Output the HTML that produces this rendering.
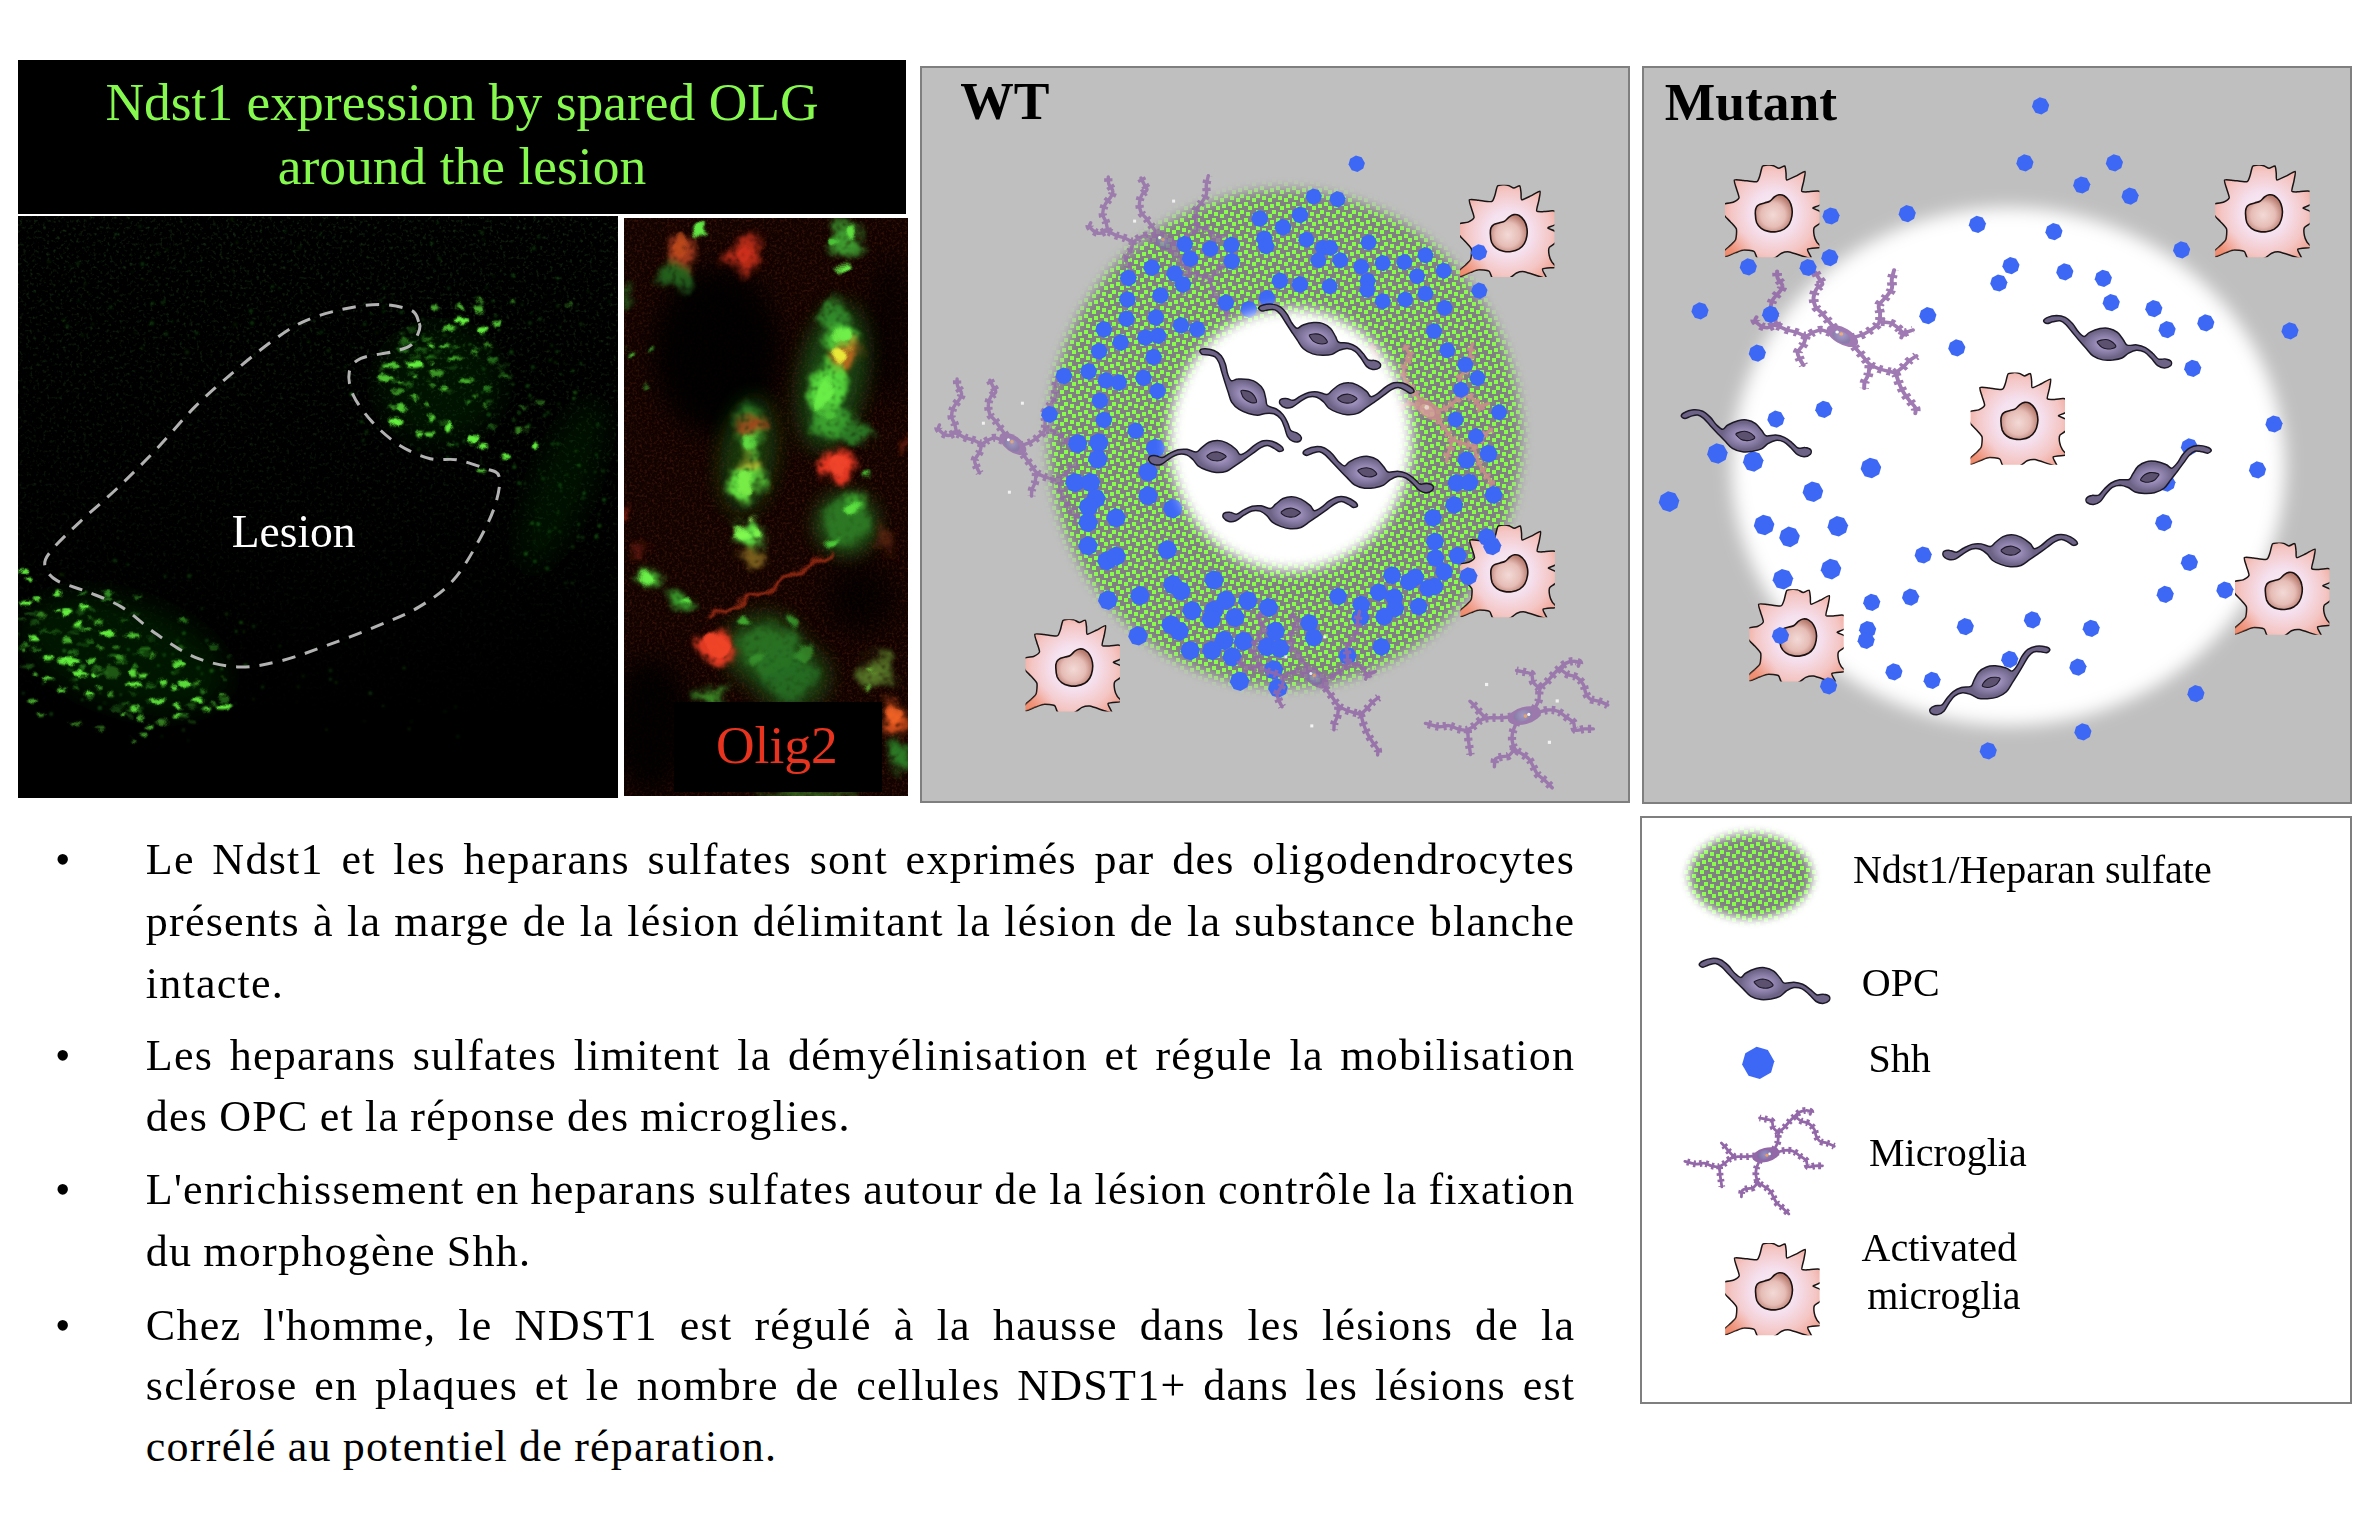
<!DOCTYPE html><html lang="fr"><head><meta charset="utf-8"><title>Ndst1</title><style>
html,body{margin:0;padding:0;background:#fff}
body{width:2376px;height:1530px;position:relative;overflow:hidden;font-family:"Liberation Serif", serif}
.t{position:absolute;white-space:nowrap;line-height:1;margin:0}
.hd{color:#86f94e;font-size:53.5px;text-align:center;left:18px;width:888px}
.bl{font-size:44px;left:145.8px;width:1427.5px;color:#000;letter-spacing:1.25px}
.j{text-align:justify;text-align-last:justify;white-space:normal}
.bu{font-size:44px;left:55px}
.lg{font-size:40px;color:#000}
.pn{font-size:53.5px;font-weight:bold;color:#000}
</style></head><body><svg width="2376" height="1530" viewBox="0 0 2376 1530" style="position:absolute;left:0;top:0"><defs><pattern id="pat" width="16" height="16" patternUnits="userSpaceOnUse" patternTransform="translate(-2 -4)"><rect width="16" height="16" fill="#808080"/><path fill="#88fc4e" d="M14 14h2v2h-2zM-2 -2h4v4h-4zM14 0h2v2h-2zM0 14h2v2h-2zM8 0h4v4h-4zM2 2h4v4h-4zM10 6h4v4h-4zM0 8h4v4h-4zM6 10h4v4h-4z"/></pattern><filter id="b2" x="-20%" y="-20%" width="140%" height="140%"><feGaussianBlur stdDeviation="2"/></filter><filter id="b5" x="-20%" y="-20%" width="140%" height="140%"><feGaussianBlur stdDeviation="5"/></filter><filter id="b65" x="-10%" y="-10%" width="120%" height="120%"><feGaussianBlur stdDeviation="6.5"/></filter><filter id="b85" x="-10%" y="-10%" width="120%" height="120%"><feGaussianBlur stdDeviation="8.5"/></filter><filter id="b7" x="-20%" y="-20%" width="140%" height="140%"><feGaussianBlur stdDeviation="7"/></filter><filter id="b10" x="-20%" y="-20%" width="140%" height="140%"><feGaussianBlur stdDeviation="10"/></filter><filter id="b1" x="-30%" y="-30%" width="160%" height="160%"><feGaussianBlur stdDeviation="1.1"/></filter><filter id="b3" x="-30%" y="-30%" width="160%" height="160%"><feGaussianBlur stdDeviation="3"/></filter><filter id="b6" x="-30%" y="-30%" width="160%" height="160%"><feGaussianBlur stdDeviation="6"/></filter><filter id="b12" x="-40%" y="-40%" width="180%" height="180%"><feGaussianBlur stdDeviation="12"/></filter><filter id="org" x="-10%" y="-10%" width="120%" height="120%"><feGaussianBlur stdDeviation="3.5" result="b"/><feTurbulence type="fractalNoise" baseFrequency="0.04" numOctaves="3" seed="3" result="n"/><feDisplacementMap in="b" in2="n" scale="26" xChannelSelector="R" yChannelSelector="G" result="d"/><feTurbulence type="fractalNoise" baseFrequency="0.22" numOctaves="2" seed="8" result="n2"/><feColorMatrix in="n2" type="matrix" values="0 0 0 0 0 0 0 0 0 0 0 0 0 0 0 2.6 0 0 0 -0.2" result="a2"/><feComposite in="d" in2="a2" operator="in" result="c"/><feGaussianBlur in="c" stdDeviation="0.8"/></filter><filter id="org2" x="-10%" y="-10%" width="120%" height="120%"><feGaussianBlur stdDeviation="1.6" result="b"/><feTurbulence type="fractalNoise" baseFrequency="0.05" numOctaves="2" seed="5" result="n"/><feDisplacementMap in="b" in2="n" scale="18" xChannelSelector="R" yChannelSelector="G"/></filter><filter id="org3" x="-5%" y="-5%" width="110%" height="110%"><feGaussianBlur stdDeviation="0.9" result="b"/><feTurbulence type="fractalNoise" baseFrequency="0.13" numOctaves="2" seed="11" result="n"/><feDisplacementMap in="b" in2="n" scale="7" xChannelSelector="R" yChannelSelector="G"/></filter><filter id="nzg" x="0" y="0" width="100%" height="100%"><feTurbulence type="fractalNoise" baseFrequency="0.3" numOctaves="2" seed="2"/><feColorMatrix type="matrix" values="0 0 0 0 0.1 0 0 0 0 0.55 0 0 0 0 0.08 0 2.4 0 0 -1.32"/></filter><filter id="nzr" x="0" y="0" width="100%" height="100%"><feTurbulence type="fractalNoise" baseFrequency="0.4" numOctaves="2" seed="4"/><feColorMatrix type="matrix" values="0 0 0 0 0.55 0 0 0 0 0.08 0 0 0 0 0.03 2.4 0 0 0 -1.1"/></filter><linearGradient id="lgm" x1="0" y1="216" x2="0" y2="720" gradientUnits="userSpaceOnUse"><stop offset="0" stop-color="#fff"/><stop offset=".55" stop-color="#999"/><stop offset="1" stop-color="#000"/></linearGradient><mask id="mnz"><rect x="18" y="216" width="600" height="582" fill="url(#lgm)"/></mask><radialGradient id="gopc" cx="0" cy="0" r="22" gradientUnits="userSpaceOnUse" gradientTransform="scale(1 .62)"><stop offset="0" stop-color="#b9abd9"/><stop offset=".55" stop-color="#8f83ad"/><stop offset="1" stop-color="#6d6386"/></radialGradient><g id="opc"><path d="M-63.1 -18.9C-63.1 -20 -61.4 -21.7 -59.3 -22.7C-57.2 -23.8 -53.5 -25 -50.5 -25.3C-47.6 -25.5 -44.4 -25.1 -41.7 -24C-38.9 -22.8 -36.4 -20.5 -34.1 -18.3C-31.8 -16.1 -29.9 -12.7 -27.8 -10.7C-25.7 -8.7 -23.4 -6.3 -21.5 -6.3C-19.6 -6.3 -18.9 -9.3 -16.4 -10.7C-13.9 -12.2 -9.5 -14.3 -6.3 -15.2C-3.2 -16 -0.4 -16.5 2.5 -16C5.5 -15.6 8.8 -14.4 11.4 -12.6C13.9 -10.9 15.9 -7.7 17.7 -5.7C19.5 -3.7 19.8 -1.3 22.1 -0.6C24.4 0.1 28.5 -1.7 31.6 -1.5C34.6 -1.3 37.7 -0.6 40.4 0.6C43.1 1.8 45.7 3.9 48 5.7C50.3 7.4 52.1 10.3 54.3 11.1C56.5 11.9 59.1 10.2 61.2 10.5C63.3 10.7 66 11.5 66.9 12.6C67.8 13.7 67.7 15.9 66.7 17C65.6 18.2 62.7 19.6 60.6 19.7C58.5 19.8 56.2 19.3 53.9 17.8C51.6 16.3 49.3 13 47 10.9C44.6 8.8 42.3 6.3 39.8 5.2C37.2 4 34.2 3.6 31.6 3.9C28.9 4.3 26.3 5.9 24 7.3C21.7 8.8 20.2 11.3 17.7 12.6C15.2 13.9 12 14.6 8.8 15.2C5.7 15.7 2.1 16.2 -1.3 15.8C-4.6 15.4 -8.4 14.4 -11.4 12.6C-14.3 10.9 -16.4 7.9 -18.9 5.4C-21.5 3 -24 0.4 -26.5 -2.1C-29 -4.7 -31.7 -7.5 -34.1 -10C-36.4 -12.4 -38.6 -15.2 -40.7 -16.9C-42.8 -18.6 -44.5 -19.9 -46.7 -20.2C-48.9 -20.5 -51.6 -19.3 -53.7 -18.7C-55.8 -18.1 -57.8 -16.5 -59.3 -16.5C-60.9 -16.6 -63.1 -17.9 -63.1 -18.9Z" fill="url(#gopc)" stroke="#1d1826" stroke-width="1.5" stroke-linejoin="round"/><path d="M-8.2 -1.9C-7.9 -2.6 -5.9 -3.3 -4.4 -3.8C-2.9 -4.3 -1.1 -4.7 0.6 -4.7C2.3 -4.6 4.2 -4.1 5.7 -3.4C7.2 -2.7 8.6 -1.5 9.5 -0.6C10.3 0.3 11.3 1.1 10.7 1.9C10.2 2.7 7.9 3.7 6.3 4.2C4.7 4.6 2.8 4.6 1.3 4.4C-0.3 4.3 -1.9 3.8 -3.2 3.2C-4.4 2.5 -5.5 1.5 -6.3 0.6C-7.2 -0.2 -8.5 -1.2 -8.2 -1.9Z" fill="#5c5270" stroke="#1d1826" stroke-width="1.1"/></g><radialGradient id="gam" cx="48.6" cy="48.4" r="56" gradientUnits="userSpaceOnUse"><stop offset="0" stop-color="#faf0fa"/><stop offset=".4" stop-color="#f5e0ee"/><stop offset=".75" stop-color="#f4c6c4"/><stop offset="1" stop-color="#f0a494"/></radialGradient><radialGradient id="gam2" cx="0" cy="92" r="30" gradientUnits="userSpaceOnUse"><stop offset="0" stop-color="#ee7a52" stop-opacity=".65"/><stop offset="1" stop-color="#ee7a52" stop-opacity="0"/></radialGradient><radialGradient id="gnu" cx="48" cy="50" r="20" gradientUnits="userSpaceOnUse"><stop offset="0" stop-color="#f3d9d6"/><stop offset=".6" stop-color="#e6bdb6"/><stop offset="1" stop-color="#b87c70"/></radialGradient><clipPath id="cam"><rect x="0" y="0" width="94.4" height="92.2"/></clipPath><g id="am" clip-path="url(#cam)"><path d="M9.4 15C10.2 14.2 16.2 15.2 18.6 15.4C20.9 15.6 29.9 17.3 31.6 16.7C33.4 16.2 34.3 12.1 34.9 10.5C35.5 8.8 36.6 2.4 37.5 1.3C38.4 0.2 42.2 0.1 43.4 0C44.6 -0.1 47.5 0.3 48.6 0.7C49.7 1 52.7 3.2 53.9 3.3C55 3.3 59 0.6 59.7 1C60.5 1.5 60.8 6.4 61 7.8C61.3 9.3 60.7 14.7 61.7 15C62.7 15.4 68.9 12 70.8 11.1C72.8 10.2 79.2 6 80 6.5C80.8 7.1 79 14.2 78.7 16.3C78.3 18.4 76.2 25 76.7 26.1C77.3 27.3 82.2 26.8 83.9 26.8C85.6 26.8 91.2 25.8 92.4 25.9C93.7 26 95.3 26 95.7 27.5C96 28.9 96.5 37.5 95.7 39.2C94.8 40.9 87.8 42.3 87.8 43.1C87.8 44 94.8 45.5 95.7 47.1C96.5 48.6 96.4 55.8 95.7 57.5C95 59.2 89.8 61.4 89.2 62.7C88.5 64.1 88.9 69.1 89.2 70.6C89.4 72.1 91.1 75.9 91.8 77.1C92.5 78.4 96.7 81.6 95.7 82.4C94.7 83.1 83.6 83.1 82.6 84.3C81.6 85.5 87 92.7 86.5 93.5C86.1 94.2 81.1 92.2 78.7 91.5C76.3 90.8 66.7 87.3 64.3 86.9C61.9 86.6 58.1 87.5 56.5 88.2C54.8 88.9 51.1 92.9 48.6 93.5C46.1 94 35 94.2 32.9 93.5C30.8 92.7 30.6 87.2 29 86.3C27.5 85.4 20.5 84.8 18.6 85C16.6 85.1 12.4 87 10.7 87.6C9 88.2 4.1 90.4 2.9 90.8C1.6 91.3 -0.6 92 -1 91.5C-1.5 91 -1.7 87.5 -1 86.3C-0.3 85.1 4.2 81.6 5.5 80.4C6.7 79.1 10.1 76.3 10.7 74.5C11.3 72.8 11.9 65.9 11.4 64.1C10.8 62.2 6.8 58.4 5.5 56.9C4.2 55.3 -0.3 51.6 -1 49.7C-1.7 47.8 -2 40.5 -1 39.2C-0.1 37.9 6.5 38 8.1 37.3C9.7 36.6 13.6 34.1 14 32.7C14.3 31.2 11.9 25.4 11.4 23.5C10.9 21.6 8.6 15.9 9.4 15Z" fill="url(#gam)" stroke="#1a1414" stroke-width="1.5" stroke-linejoin="round"/><path d="M9.4 15C10.2 14.2 16.2 15.2 18.6 15.4C20.9 15.6 29.9 17.3 31.6 16.7C33.4 16.2 34.3 12.1 34.9 10.5C35.5 8.8 36.6 2.4 37.5 1.3C38.4 0.2 42.2 0.1 43.4 0C44.6 -0.1 47.5 0.3 48.6 0.7C49.7 1 52.7 3.2 53.9 3.3C55 3.3 59 0.6 59.7 1C60.5 1.5 60.8 6.4 61 7.8C61.3 9.3 60.7 14.7 61.7 15C62.7 15.4 68.9 12 70.8 11.1C72.8 10.2 79.2 6 80 6.5C80.8 7.1 79 14.2 78.7 16.3C78.3 18.4 76.2 25 76.7 26.1C77.3 27.3 82.2 26.8 83.9 26.8C85.6 26.8 91.2 25.8 92.4 25.9C93.7 26 95.3 26 95.7 27.5C96 28.9 96.5 37.5 95.7 39.2C94.8 40.9 87.8 42.3 87.8 43.1C87.8 44 94.8 45.5 95.7 47.1C96.5 48.6 96.4 55.8 95.7 57.5C95 59.2 89.8 61.4 89.2 62.7C88.5 64.1 88.9 69.1 89.2 70.6C89.4 72.1 91.1 75.9 91.8 77.1C92.5 78.4 96.7 81.6 95.7 82.4C94.7 83.1 83.6 83.1 82.6 84.3C81.6 85.5 87 92.7 86.5 93.5C86.1 94.2 81.1 92.2 78.7 91.5C76.3 90.8 66.7 87.3 64.3 86.9C61.9 86.6 58.1 87.5 56.5 88.2C54.8 88.9 51.1 92.9 48.6 93.5C46.1 94 35 94.2 32.9 93.5C30.8 92.7 30.6 87.2 29 86.3C27.5 85.4 20.5 84.8 18.6 85C16.6 85.1 12.4 87 10.7 87.6C9 88.2 4.1 90.4 2.9 90.8C1.6 91.3 -0.6 92 -1 91.5C-1.5 91 -1.7 87.5 -1 86.3C-0.3 85.1 4.2 81.6 5.5 80.4C6.7 79.1 10.1 76.3 10.7 74.5C11.3 72.8 11.9 65.9 11.4 64.1C10.8 62.2 6.8 58.4 5.5 56.9C4.2 55.3 -0.3 51.6 -1 49.7C-1.7 47.8 -2 40.5 -1 39.2C-0.1 37.9 6.5 38 8.1 37.3C9.7 36.6 13.6 34.1 14 32.7C14.3 31.2 11.9 25.4 11.4 23.5C10.9 21.6 8.6 15.9 9.4 15Z" fill="url(#gam2)"/><path d="M30.3 48.4C30.2 46 30.4 44.6 31 43.1C31.5 41.7 32.2 40.7 33.6 39.9C35 39 37.6 38.5 39.5 37.9C41.3 37.3 43.1 37.3 44.7 36.3C46.3 35.4 47.8 33.1 49.3 32C50.8 30.9 52.2 30 53.9 29.8C55.5 29.6 57.3 29.7 59.1 30.7C60.8 31.7 63 33.9 64.3 35.9C65.6 38 66.5 40.6 66.9 43.1C67.4 45.6 67.4 48.4 66.9 51C66.5 53.6 65.6 56.6 64.3 58.8C63 61 61.3 62.7 59.1 64.1C56.9 65.4 53.9 66.3 51.2 66.7C48.6 67.1 45.9 66.9 43.4 66.4C40.9 65.9 38.2 64.9 36.2 63.4C34.2 61.9 32.6 60 31.6 57.5C30.7 55 30.4 50.8 30.3 48.4Z" fill="url(#gnu)" stroke="#1a1010" stroke-width="1.6"/></g><radialGradient id="gmn" cx="-1" cy="-.5" r="8" gradientUnits="userSpaceOnUse"><stop offset="0" stop-color="#9a90c4"/><stop offset="1" stop-color="#7a6aa0"/></radialGradient><g id="mgb"><path d="M8.2 -5.5C8.8 -6.7 11.1 -10 11.8 -12.8C12.6 -15.5 11.7 -19.4 12.8 -21.9C13.8 -24.3 16.4 -25.3 18.2 -27.3C20 -29.3 21.9 -31.8 23.7 -33.7C25.4 -35.6 27 -37.2 28.7 -38.7C30.4 -40.2 31.8 -41.8 33.7 -42.8C35.6 -43.8 38.3 -44.6 40.1 -44.6C41.9 -44.7 43.9 -43.9 44.6 -43.3C45.3 -42.6 44.2 -41 44.2 -40.5M12.3 -22.3C11.5 -23.1 8.3 -25.4 7.3 -27.3C6.2 -29.2 7 -32.3 5.9 -33.7C4.9 -35.1 3 -35 0.9 -35.5C-1.1 -36.1 -5.2 -36.7 -6.4 -36.9M29.1 -38.3C30.2 -37.5 33.2 -34.8 35.5 -33.7C37.8 -32.6 40.7 -32.8 42.8 -31.4C44.9 -30.1 47.1 -27.6 48.3 -25.5C49.5 -23.5 49.2 -21.1 50.1 -19.1C51 -17.2 51.9 -14.9 53.7 -13.7C55.6 -12.4 58.6 -12.7 61 -11.8C63.4 -11 67.1 -9.2 68.3 -8.7M10 -2.3C11.5 -2.7 16.2 -4.3 19.1 -4.6C22 -4.8 24.9 -4.6 27.3 -3.6C29.8 -2.7 31.6 -0.6 33.7 0.9C35.8 2.4 38.7 3.6 40.1 5.5C41.4 7.3 40.4 10.9 41.9 11.8C43.4 12.8 46.8 11.1 49.2 10.9C51.6 10.8 55.3 10.9 56.5 10.9M-6.4 5.5C-6.9 6.8 -9 11.1 -9.6 13.7C-10.2 16.2 -10.3 18.7 -10 20.9C-9.7 23.2 -9 25.7 -7.7 27.3C-6.5 29 -4.6 29.6 -2.7 31C-0.8 32.3 2 33.7 3.6 35.5C5.3 37.3 6.1 39.8 7.3 41.9C8.5 44 9.4 46.4 10.9 48.3C12.4 50.1 14.4 51 16.4 52.8C18.4 54.6 21.7 58.1 22.8 59.2M-8.2 27.8C-9 28.6 -11.1 31.8 -12.8 32.8C-14.4 33.8 -16.4 33.2 -18.2 33.7C-20 34.2 -22.6 34.2 -23.7 35.5C-24.7 36.9 -24.4 40.8 -24.6 41.9M-10.9 0.9C-12.4 1.1 -17.2 1.7 -20 1.8C-22.9 2 -25.7 1.5 -28.2 1.8C-30.8 2.1 -33.4 2.6 -35.5 3.6C-37.6 4.7 -39 6.8 -41 8.2C-43 9.6 -45.1 11.4 -47.4 11.8C-49.6 12.3 -52.2 11.5 -54.6 10.9C-57.1 10.3 -59.4 8.5 -61.9 8.2C-64.5 7.9 -66.9 9.4 -70.1 9.1C-73.3 8.8 -79.2 6.8 -81.1 6.4M-31.9 1.8C-32.8 0.9 -35.8 -2 -37.3 -3.6C-38.9 -5.3 -39.8 -6.8 -41 -8.2C-42.2 -9.6 -44 -11.2 -44.6 -11.8M-46.4 11.8C-46.4 13.1 -46.2 16.8 -46 19.1C-45.8 21.4 -45.4 23.4 -45.1 25.5C-44.8 27.6 -44.3 30.8 -44.2 31.9" fill="none" stroke-width="2.8" stroke-linecap="round" stroke-linejoin="round"/><path d="M8.2 -5.5C8.8 -6.7 11.1 -10 11.8 -12.8C12.6 -15.5 11.7 -19.4 12.8 -21.9C13.8 -24.3 16.4 -25.3 18.2 -27.3C20 -29.3 21.9 -31.8 23.7 -33.7C25.4 -35.6 27 -37.2 28.7 -38.7C30.4 -40.2 31.8 -41.8 33.7 -42.8C35.6 -43.8 38.3 -44.6 40.1 -44.6C41.9 -44.7 43.9 -43.9 44.6 -43.3C45.3 -42.6 44.2 -41 44.2 -40.5M12.3 -22.3C11.5 -23.1 8.3 -25.4 7.3 -27.3C6.2 -29.2 7 -32.3 5.9 -33.7C4.9 -35.1 3 -35 0.9 -35.5C-1.1 -36.1 -5.2 -36.7 -6.4 -36.9M29.1 -38.3C30.2 -37.5 33.2 -34.8 35.5 -33.7C37.8 -32.6 40.7 -32.8 42.8 -31.4C44.9 -30.1 47.1 -27.6 48.3 -25.5C49.5 -23.5 49.2 -21.1 50.1 -19.1C51 -17.2 51.9 -14.9 53.7 -13.7C55.6 -12.4 58.6 -12.7 61 -11.8C63.4 -11 67.1 -9.2 68.3 -8.7M10 -2.3C11.5 -2.7 16.2 -4.3 19.1 -4.6C22 -4.8 24.9 -4.6 27.3 -3.6C29.8 -2.7 31.6 -0.6 33.7 0.9C35.8 2.4 38.7 3.6 40.1 5.5C41.4 7.3 40.4 10.9 41.9 11.8C43.4 12.8 46.8 11.1 49.2 10.9C51.6 10.8 55.3 10.9 56.5 10.9M-6.4 5.5C-6.9 6.8 -9 11.1 -9.6 13.7C-10.2 16.2 -10.3 18.7 -10 20.9C-9.7 23.2 -9 25.7 -7.7 27.3C-6.5 29 -4.6 29.6 -2.7 31C-0.8 32.3 2 33.7 3.6 35.5C5.3 37.3 6.1 39.8 7.3 41.9C8.5 44 9.4 46.4 10.9 48.3C12.4 50.1 14.4 51 16.4 52.8C18.4 54.6 21.7 58.1 22.8 59.2M-8.2 27.8C-9 28.6 -11.1 31.8 -12.8 32.8C-14.4 33.8 -16.4 33.2 -18.2 33.7C-20 34.2 -22.6 34.2 -23.7 35.5C-24.7 36.9 -24.4 40.8 -24.6 41.9M-10.9 0.9C-12.4 1.1 -17.2 1.7 -20 1.8C-22.9 2 -25.7 1.5 -28.2 1.8C-30.8 2.1 -33.4 2.6 -35.5 3.6C-37.6 4.7 -39 6.8 -41 8.2C-43 9.6 -45.1 11.4 -47.4 11.8C-49.6 12.3 -52.2 11.5 -54.6 10.9C-57.1 10.3 -59.4 8.5 -61.9 8.2C-64.5 7.9 -66.9 9.4 -70.1 9.1C-73.3 8.8 -79.2 6.8 -81.1 6.4M-31.9 1.8C-32.8 0.9 -35.8 -2 -37.3 -3.6C-38.9 -5.3 -39.8 -6.8 -41 -8.2C-42.2 -9.6 -44 -11.2 -44.6 -11.8M-46.4 11.8C-46.4 13.1 -46.2 16.8 -46 19.1C-45.8 21.4 -45.4 23.4 -45.1 25.5C-44.8 27.6 -44.3 30.8 -44.2 31.9" fill="none" stroke-width="6.8" stroke-dasharray="2.6 3.7" stroke-linecap="butt"/><ellipse cx="0" cy="0" rx="14" ry="7" transform="rotate(-14)" stroke="none"/></g><g id="mg"><use href="#mgb" stroke="#9368a8" fill="#9368a8"/><ellipse cx="-1.2" cy="-.4" rx="7.6" ry="4.6" transform="rotate(-14)" fill="url(#gmn)"/><circle cx=".9" cy=".4" r="1.5" fill="#f0a060"/><circle cx="3.6" cy="-1" r="1.3" fill="#fff"/><rect x="-32.3" y="-26.8" width="2.6" height="2.6" fill="#fff"/><rect x="25.6" y="-13.3" width="2.6" height="2.6" fill="#fff"/><rect x="19.2" y="20.6" width="2.6" height="2.6" fill="#fff"/></g><g id="mgp"><use href="#mgb" stroke="#c68c8c" fill="#c68c8c"/><ellipse cx="-1.2" cy="-.4" rx="7.6" ry="4.6" transform="rotate(-14)" fill="#d49c98"/><circle cx="1" cy="0" r="2" fill="#f0d0cc"/></g><g id="m1b"><path d="M-7 -8.2C-8 -9.6 -11.2 -13.9 -13.1 -16.5C-14.9 -19 -16.4 -21.4 -18.1 -23.5C-19.8 -25.7 -22 -26.9 -23.1 -29.4C-24.2 -32 -24.8 -35.9 -24.6 -38.8C-24.5 -41.8 -23.4 -44.9 -22.1 -47.1C-20.9 -49.2 -17.4 -50 -17.1 -51.8C-16.8 -53.5 -19.1 -55.7 -20.1 -57.6C-21.1 -59.6 -22.6 -62.5 -23.1 -63.5M-10.1 -2.9C-11.4 -3.4 -15.6 -5.8 -18.1 -5.9C-20.6 -6 -23 -4.5 -25.1 -3.5C-27.3 -2.5 -28.8 0 -31.2 0C-33.5 0 -36.5 -2.5 -39.2 -3.5C-41.9 -4.5 -44.7 -4.9 -47.3 -5.9C-49.8 -6.9 -52.5 -8.6 -54.3 -9.4C-56.1 -10.2 -56.6 -10.8 -58.3 -10.6C-60 -10.4 -62.3 -8.2 -64.4 -8.2C-66.4 -8.2 -68.7 -9.4 -70.4 -10.6C-72.1 -11.8 -73.9 -13.9 -74.4 -15.3C-74.9 -16.7 -73.6 -18.2 -73.4 -18.8M-56.3 -10.6C-56.6 -12.2 -57.5 -17.3 -58.3 -20C-59.2 -22.7 -61.2 -24.3 -61.3 -27.1C-61.5 -29.8 -60.7 -33.5 -59.3 -36.5C-58 -39.4 -54.6 -42.4 -53.3 -44.7C-52 -47.1 -50.9 -48.4 -51.3 -50.6C-51.6 -52.7 -54.6 -55.3 -55.3 -57.6C-56.1 -60 -55.7 -63.5 -55.8 -64.7M-31.2 0C-31.5 1.4 -32 5.5 -33.2 8.2C-34.4 11 -37.7 13.9 -38.2 16.5C-38.7 19 -37 21.4 -36.2 23.5C-35.4 25.7 -33.7 28.4 -33.2 29.4M8 1.8C9.6 1.3 14.4 0.1 17.1 -1.2C19.8 -2.5 21.8 -3.9 24.1 -5.9C26.5 -7.8 29.8 -10.2 31.2 -12.9C32.5 -15.7 32.2 -19.4 32.2 -22.4C32.2 -25.3 30.3 -27.8 31.2 -30.6C32 -33.3 35.4 -36.1 37.2 -38.8C39 -41.6 41.4 -44.1 42.2 -47.1C43.1 -50 41.9 -53.3 42.2 -56.5C42.6 -59.6 43.9 -64.3 44.2 -65.9M33.2 -14.1C34.5 -13.9 38.9 -13.9 41.2 -12.9C43.6 -12 45.4 -9.8 47.3 -8.2C49.1 -6.7 50.1 -3.9 52.3 -3.5C54.5 -3.1 59 -5.5 60.3 -5.9M52.3 -3.5C52 -2.6 50.6 0.9 50.3 1.8M10.1 10.6C11.2 12.2 14.9 17.1 17.1 20C19.3 22.9 20.8 26.1 23.1 28.2C25.5 30.4 28.5 31.8 31.2 32.9C33.9 34.1 36.9 34.5 39.2 35.3C41.6 36.1 43.7 35.7 45.2 37.6C46.8 39.6 47.1 43.9 48.3 47.1C49.4 50.2 50.8 53.5 52.3 56.5C53.8 59.4 55.6 62.2 57.3 64.7C59 67.3 61.5 69.6 62.3 71.8C63.2 73.9 62.3 76.7 62.3 77.6M45.2 37.1C46.4 36 50.3 32.6 52.3 30.6C54.3 28.5 55.5 26.5 57.3 24.7C59.2 22.9 62.3 20.8 63.3 20M23.1 29.4C23 31 22.8 36.1 22.1 38.8C21.5 41.6 19.7 43.6 19.1 45.9C18.5 48.1 18.7 51.3 18.6 52.4" fill="none" stroke-width="3.4" stroke-linecap="round" stroke-linejoin="round"/><path d="M-7 -8.2C-8 -9.6 -11.2 -13.9 -13.1 -16.5C-14.9 -19 -16.4 -21.4 -18.1 -23.5C-19.8 -25.7 -22 -26.9 -23.1 -29.4C-24.2 -32 -24.8 -35.9 -24.6 -38.8C-24.5 -41.8 -23.4 -44.9 -22.1 -47.1C-20.9 -49.2 -17.4 -50 -17.1 -51.8C-16.8 -53.5 -19.1 -55.7 -20.1 -57.6C-21.1 -59.6 -22.6 -62.5 -23.1 -63.5M-10.1 -2.9C-11.4 -3.4 -15.6 -5.8 -18.1 -5.9C-20.6 -6 -23 -4.5 -25.1 -3.5C-27.3 -2.5 -28.8 0 -31.2 0C-33.5 0 -36.5 -2.5 -39.2 -3.5C-41.9 -4.5 -44.7 -4.9 -47.3 -5.9C-49.8 -6.9 -52.5 -8.6 -54.3 -9.4C-56.1 -10.2 -56.6 -10.8 -58.3 -10.6C-60 -10.4 -62.3 -8.2 -64.4 -8.2C-66.4 -8.2 -68.7 -9.4 -70.4 -10.6C-72.1 -11.8 -73.9 -13.9 -74.4 -15.3C-74.9 -16.7 -73.6 -18.2 -73.4 -18.8M-56.3 -10.6C-56.6 -12.2 -57.5 -17.3 -58.3 -20C-59.2 -22.7 -61.2 -24.3 -61.3 -27.1C-61.5 -29.8 -60.7 -33.5 -59.3 -36.5C-58 -39.4 -54.6 -42.4 -53.3 -44.7C-52 -47.1 -50.9 -48.4 -51.3 -50.6C-51.6 -52.7 -54.6 -55.3 -55.3 -57.6C-56.1 -60 -55.7 -63.5 -55.8 -64.7M-31.2 0C-31.5 1.4 -32 5.5 -33.2 8.2C-34.4 11 -37.7 13.9 -38.2 16.5C-38.7 19 -37 21.4 -36.2 23.5C-35.4 25.7 -33.7 28.4 -33.2 29.4M8 1.8C9.6 1.3 14.4 0.1 17.1 -1.2C19.8 -2.5 21.8 -3.9 24.1 -5.9C26.5 -7.8 29.8 -10.2 31.2 -12.9C32.5 -15.7 32.2 -19.4 32.2 -22.4C32.2 -25.3 30.3 -27.8 31.2 -30.6C32 -33.3 35.4 -36.1 37.2 -38.8C39 -41.6 41.4 -44.1 42.2 -47.1C43.1 -50 41.9 -53.3 42.2 -56.5C42.6 -59.6 43.9 -64.3 44.2 -65.9M33.2 -14.1C34.5 -13.9 38.9 -13.9 41.2 -12.9C43.6 -12 45.4 -9.8 47.3 -8.2C49.1 -6.7 50.1 -3.9 52.3 -3.5C54.5 -3.1 59 -5.5 60.3 -5.9M52.3 -3.5C52 -2.6 50.6 0.9 50.3 1.8M10.1 10.6C11.2 12.2 14.9 17.1 17.1 20C19.3 22.9 20.8 26.1 23.1 28.2C25.5 30.4 28.5 31.8 31.2 32.9C33.9 34.1 36.9 34.5 39.2 35.3C41.6 36.1 43.7 35.7 45.2 37.6C46.8 39.6 47.1 43.9 48.3 47.1C49.4 50.2 50.8 53.5 52.3 56.5C53.8 59.4 55.6 62.2 57.3 64.7C59 67.3 61.5 69.6 62.3 71.8C63.2 73.9 62.3 76.7 62.3 77.6M45.2 37.1C46.4 36 50.3 32.6 52.3 30.6C54.3 28.5 55.5 26.5 57.3 24.7C59.2 22.9 62.3 20.8 63.3 20M23.1 29.4C23 31 22.8 36.1 22.1 38.8C21.5 41.6 19.7 43.6 19.1 45.9C18.5 48.1 18.7 51.3 18.6 52.4" fill="none" stroke-width="8.3" stroke-dasharray="3.2 4.5" stroke-linecap="butt"/><ellipse cx="0" cy="0" rx="15.5" ry="8" transform="rotate(36)" stroke="none"/></g><g id="m1"><use href="#m1b" stroke="#9368a8" fill="#9368a8"/><ellipse cx="0" cy="1.5" rx="8.6" ry="5.4" transform="rotate(36)" fill="url(#gmn)"/><circle cx="-1" cy="-2" r="1.7" fill="#f0a060"/><circle cx="-4.5" cy="-4" r="1.5" fill="#fff"/><rect x="8" y="-42" width="3" height="3" fill="#fff"/><rect x="-31" y="-22" width="3" height="3" fill="#fff"/><rect x="-5" y="47" width="3" height="3" fill="#fff"/></g><g id="m1p"><use href="#m1b" stroke="#c68c8c" fill="#c68c8c"/><ellipse cx="0" cy="1.5" rx="8.6" ry="5.4" transform="rotate(36)" fill="#d49c98"/><circle cx="-1.5" cy="-2" r="2.3" fill="#f0d8d4"/></g><path id="d" d="M-0.1 -1L0.6 -0.8L1 -0.1L0.8 0.6L0.1 1L-0.6 0.8L-1 0.1L-0.8 -0.6Z"/></defs><rect x="18" y="60" width="888" height="154" fill="#000"/><rect x="18" y="216" width="600" height="582" fill="#000"/><clipPath id="cl"><rect x="18" y="216" width="600" height="582"/></clipPath><g clip-path="url(#cl)"><g filter="url(#b12)"><ellipse cx="125" cy="655" rx="105" ry="52" fill="#0a3a08" opacity=".4" transform="rotate(18 130 655)"/><ellipse cx="440" cy="385" rx="62" ry="58" fill="#093207" opacity=".35"/><ellipse cx="562" cy="485" rx="28" ry="90" fill="#0b3c09" opacity=".28" transform="rotate(22 562 485)"/><ellipse cx="330" cy="280" rx="260" ry="60" fill="#031502" opacity=".25"/></g><g mask="url(#mnz)"><rect x="18" y="216" width="600" height="582" filter="url(#nzg)" opacity=".28"/></g><g fill="#1c6e16" filter="url(#b1)"><circle cx="267.9" cy="317.8" r="1.8" opacity="0.18"/><circle cx="143.2" cy="279.2" r="1.1" opacity="0.33"/><circle cx="512.1" cy="302.3" r="1.1" opacity="0.18"/><circle cx="77.3" cy="323.2" r="1.1" opacity="0.23"/><circle cx="116.7" cy="234.1" r="1.7" opacity="0.29"/><circle cx="384" cy="287.4" r="2" opacity="0.25"/><circle cx="383.5" cy="311.6" r="1.4" opacity="0.44"/><circle cx="416.5" cy="345.3" r="1.8" opacity="0.28"/><circle cx="248.2" cy="284.1" r="1.1" opacity="0.22"/><circle cx="236.9" cy="242.6" r="1.4" opacity="0.35"/><circle cx="162.8" cy="302.7" r="2" opacity="0.39"/><circle cx="328.4" cy="350.6" r="1.6" opacity="0.46"/><circle cx="299.3" cy="247.4" r="2.2" opacity="0.19"/><circle cx="92.7" cy="324.3" r="1.2" opacity="0.32"/><circle cx="557.8" cy="305.9" r="1.9" opacity="0.35"/><circle cx="439.2" cy="258.4" r="1.8" opacity="0.36"/><circle cx="142.4" cy="264" r="2" opacity="0.48"/><circle cx="78.7" cy="300.6" r="1.1" opacity="0.40"/><circle cx="139.9" cy="226.4" r="2" opacity="0.25"/><circle cx="135.2" cy="333" r="1" opacity="0.31"/><circle cx="370.6" cy="313.8" r="1.1" opacity="0.42"/><circle cx="422.6" cy="318.9" r="1.5" opacity="0.45"/><circle cx="495.8" cy="316" r="1.7" opacity="0.46"/><circle cx="437.6" cy="222.6" r="1.3" opacity="0.30"/><circle cx="141.9" cy="348.3" r="2.1" opacity="0.20"/><circle cx="384.6" cy="324.5" r="1.3" opacity="0.32"/><circle cx="189.7" cy="268.2" r="1" opacity="0.30"/><circle cx="166.2" cy="334.1" r="2.1" opacity="0.39"/><circle cx="85.4" cy="283.9" r="1.8" opacity="0.17"/><circle cx="533.9" cy="248.3" r="2" opacity="0.43"/><circle cx="172.2" cy="321.6" r="1.1" opacity="0.37"/><circle cx="392" cy="297.9" r="1.3" opacity="0.21"/><circle cx="283.1" cy="305.5" r="1" opacity="0.20"/><circle cx="465.4" cy="318.7" r="1" opacity="0.46"/><circle cx="232.8" cy="269.7" r="1.3" opacity="0.27"/><circle cx="250.9" cy="311.1" r="2" opacity="0.50"/><circle cx="116.1" cy="301.8" r="1.1" opacity="0.19"/><circle cx="235.1" cy="324.4" r="2" opacity="0.21"/><circle cx="609.5" cy="301.3" r="1.6" opacity="0.20"/><circle cx="272.5" cy="286.5" r="1.6" opacity="0.49"/><circle cx="483.6" cy="239.5" r="1.3" opacity="0.28"/><circle cx="451.3" cy="351" r="1.6" opacity="0.42"/><circle cx="252" cy="323.1" r="2" opacity="0.49"/><circle cx="481.9" cy="232.6" r="2" opacity="0.41"/><circle cx="351.4" cy="346.9" r="1.4" opacity="0.16"/><circle cx="476.1" cy="297.4" r="1.3" opacity="0.39"/><circle cx="513.2" cy="275.6" r="2.1" opacity="0.50"/><circle cx="494" cy="276.5" r="1.3" opacity="0.23"/><circle cx="364.6" cy="324.2" r="1.7" opacity="0.47"/><circle cx="431.8" cy="243.3" r="1.8" opacity="0.43"/><circle cx="530" cy="323" r="2.1" opacity="0.42"/><circle cx="320.2" cy="234.7" r="1.2" opacity="0.43"/><circle cx="187" cy="352.2" r="2.2" opacity="0.29"/><circle cx="82.4" cy="335.2" r="1.9" opacity="0.21"/><circle cx="401.4" cy="312.3" r="2.1" opacity="0.43"/><circle cx="485.6" cy="347.8" r="2.2" opacity="0.38"/><circle cx="188.9" cy="337.9" r="1.2" opacity="0.15"/><circle cx="557.8" cy="278.3" r="1.6" opacity="0.48"/><circle cx="63.8" cy="320.2" r="2" opacity="0.22"/><circle cx="318.1" cy="333.3" r="1.3" opacity="0.36"/><circle cx="308.6" cy="341.7" r="1.2" opacity="0.47"/><circle cx="196.8" cy="333" r="1.7" opacity="0.47"/><circle cx="67.6" cy="326.7" r="1.6" opacity="0.34"/><circle cx="279.4" cy="288.4" r="1.5" opacity="0.21"/><circle cx="588.1" cy="291.8" r="1.2" opacity="0.32"/><circle cx="285.3" cy="231" r="1.4" opacity="0.33"/><circle cx="70.3" cy="265.8" r="1.1" opacity="0.35"/><circle cx="321.5" cy="332.1" r="1.9" opacity="0.33"/><circle cx="77.9" cy="263.6" r="2.1" opacity="0.31"/><circle cx="157.8" cy="253.1" r="1.6" opacity="0.39"/><circle cx="110.7" cy="307.2" r="1.6" opacity="0.48"/><circle cx="231.9" cy="218.9" r="2.1" opacity="0.24"/><circle cx="48.8" cy="261.6" r="2" opacity="0.20"/><circle cx="464" cy="326.8" r="1.1" opacity="0.23"/><circle cx="540" cy="319" r="1.9" opacity="0.46"/><circle cx="463.4" cy="345.9" r="1.8" opacity="0.20"/><circle cx="538.7" cy="237.2" r="1.3" opacity="0.48"/><circle cx="151.9" cy="323.3" r="2.2" opacity="0.44"/><circle cx="424.1" cy="334.6" r="1.6" opacity="0.27"/><circle cx="376.6" cy="332.6" r="1.9" opacity="0.16"/><circle cx="132.3" cy="272.3" r="1" opacity="0.27"/><circle cx="167.2" cy="249.8" r="1.1" opacity="0.49"/><circle cx="390.6" cy="213.4" r="1.1" opacity="0.24"/><circle cx="576.6" cy="307.4" r="1.3" opacity="0.20"/><circle cx="67.1" cy="325.8" r="2" opacity="0.24"/><circle cx="490" cy="351.9" r="1.7" opacity="0.40"/><circle cx="380.9" cy="300.2" r="1.8" opacity="0.30"/><circle cx="581" cy="324.1" r="1.8" opacity="0.43"/><circle cx="560" cy="327.2" r="1.1" opacity="0.45"/><circle cx="152.6" cy="303.3" r="1.7" opacity="0.47"/><circle cx="558" cy="512.9" r="1.6" opacity="0.42"/><circle cx="575.5" cy="500.6" r="1.1" opacity="0.40"/><circle cx="549.5" cy="531.3" r="1.9" opacity="0.44"/><circle cx="538.9" cy="470" r="1.4" opacity="0.31"/><circle cx="560" cy="484.9" r="1.9" opacity="0.58"/><circle cx="572.8" cy="546.8" r="2.1" opacity="0.35"/><circle cx="573.8" cy="398.4" r="1.6" opacity="0.72"/><circle cx="532.1" cy="523.2" r="1.8" opacity="0.79"/><circle cx="534.9" cy="561.4" r="1.8" opacity="0.62"/><circle cx="535.7" cy="509.9" r="1.1" opacity="0.36"/><circle cx="598.9" cy="514.4" r="1.3" opacity="0.38"/><circle cx="599.5" cy="525.7" r="2" opacity="0.64"/><circle cx="555.1" cy="527.9" r="1.4" opacity="0.53"/><circle cx="578.3" cy="537" r="1.3" opacity="0.78"/><circle cx="596.4" cy="454.8" r="1.3" opacity="0.78"/><circle cx="549.1" cy="536.7" r="1" opacity="0.49"/><circle cx="525" cy="483.5" r="1.2" opacity="0.55"/><circle cx="585.7" cy="471.9" r="1.1" opacity="0.50"/><circle cx="567.2" cy="474.7" r="1.4" opacity="0.42"/><circle cx="528.8" cy="425.3" r="1.9" opacity="0.63"/><circle cx="550.1" cy="360" r="1.5" opacity="0.46"/><circle cx="579.2" cy="465.6" r="1.9" opacity="0.62"/><circle cx="604" cy="499.8" r="2.1" opacity="0.61"/><circle cx="555.4" cy="362.4" r="1.2" opacity="0.56"/><circle cx="514.3" cy="467" r="2" opacity="0.71"/><circle cx="519.2" cy="412.9" r="1.8" opacity="0.65"/><circle cx="561.1" cy="491" r="1.2" opacity="0.48"/><circle cx="596.1" cy="537.2" r="1.7" opacity="0.61"/><circle cx="531.1" cy="399.5" r="1.6" opacity="0.30"/><circle cx="572.8" cy="370.8" r="1.6" opacity="0.57"/><circle cx="553.1" cy="444" r="1.9" opacity="0.43"/><circle cx="583" cy="497.9" r="1.9" opacity="0.40"/><circle cx="556.8" cy="351.7" r="1.6" opacity="0.49"/><circle cx="519" cy="483" r="1.9" opacity="0.61"/><circle cx="551.3" cy="443.9" r="1.2" opacity="0.43"/><circle cx="558.8" cy="403.9" r="1.7" opacity="0.31"/><circle cx="584.1" cy="493.1" r="1.8" opacity="0.65"/><circle cx="547.9" cy="412.2" r="1.6" opacity="0.53"/><circle cx="543.2" cy="478.7" r="2.1" opacity="0.40"/><circle cx="607.9" cy="454.1" r="1" opacity="0.53"/><circle cx="580.9" cy="363.1" r="1.5" opacity="0.43"/><circle cx="572.1" cy="583" r="1.3" opacity="0.59"/><circle cx="582.8" cy="537.5" r="2.1" opacity="0.37"/><circle cx="575.2" cy="392.6" r="2.1" opacity="0.65"/><circle cx="565.5" cy="582.9" r="1.6" opacity="0.31"/><circle cx="595.1" cy="471.9" r="1.5" opacity="0.45"/><circle cx="578.6" cy="524.4" r="1.4" opacity="0.72"/><circle cx="603.3" cy="471.1" r="2" opacity="0.36"/><circle cx="597.8" cy="424.8" r="2.1" opacity="0.44"/><circle cx="538.2" cy="524.1" r="2.2" opacity="0.59"/><circle cx="539" cy="530.3" r="1.3" opacity="0.32"/><circle cx="596.7" cy="535.4" r="1.3" opacity="0.77"/><circle cx="560.1" cy="531.9" r="1.6" opacity="0.39"/><circle cx="525.8" cy="553.8" r="2.1" opacity="0.71"/><circle cx="527.5" cy="386" r="2.1" opacity="0.57"/><circle cx="557.9" cy="443.8" r="1.9" opacity="0.53"/><circle cx="560.7" cy="373.7" r="1.3" opacity="0.32"/><circle cx="576" cy="451" r="1.6" opacity="0.47"/><circle cx="547.3" cy="568.5" r="2.2" opacity="0.43"/><circle cx="544.7" cy="415.3" r="1.7" opacity="0.50"/><circle cx="157.9" cy="681.4" r="1.2" opacity="0.75"/><circle cx="64.3" cy="650.8" r="2.1" opacity="0.80"/><circle cx="80.3" cy="660.4" r="1.2" opacity="0.35"/><circle cx="106.9" cy="672.8" r="1.3" opacity="0.43"/><circle cx="10.5" cy="614.1" r="1.9" opacity="0.51"/><circle cx="43.1" cy="683.6" r="1.5" opacity="0.47"/><circle cx="198.2" cy="668" r="2.2" opacity="0.36"/><circle cx="18.9" cy="648.5" r="2" opacity="0.41"/><circle cx="120.8" cy="694.5" r="1.5" opacity="0.52"/><circle cx="253.6" cy="626.3" r="2" opacity="0.31"/><circle cx="245.5" cy="665.3" r="2.1" opacity="0.54"/><circle cx="128.4" cy="649.4" r="1.5" opacity="0.76"/><circle cx="189.2" cy="576" r="2.2" opacity="0.42"/><circle cx="172.6" cy="672.4" r="1.6" opacity="0.64"/><circle cx="241" cy="622.5" r="1.8" opacity="0.68"/><circle cx="29.7" cy="667.7" r="1" opacity="0.69"/><circle cx="144.7" cy="735.8" r="1.8" opacity="0.45"/><circle cx="178.7" cy="682.5" r="1.8" opacity="0.65"/><circle cx="158.3" cy="665.5" r="1.6" opacity="0.59"/><circle cx="79.5" cy="677.5" r="1.7" opacity="0.31"/><circle cx="99.8" cy="707.9" r="2.2" opacity="0.62"/><circle cx="201.9" cy="608.6" r="1.3" opacity="0.42"/><circle cx="243.9" cy="631.5" r="1.4" opacity="0.31"/><circle cx="15" cy="650.8" r="1.5" opacity="0.43"/><circle cx="63.2" cy="574.8" r="1.3" opacity="0.32"/><circle cx="82.3" cy="699.7" r="1.8" opacity="0.40"/><circle cx="165.1" cy="576" r="1.6" opacity="0.40"/><circle cx="206.8" cy="640.5" r="2" opacity="0.42"/><circle cx="151.8" cy="727.2" r="1.4" opacity="0.78"/><circle cx="69.4" cy="651" r="1.3" opacity="0.51"/><circle cx="60.8" cy="574.5" r="1.2" opacity="0.50"/><circle cx="161.9" cy="736.4" r="1.2" opacity="0.33"/><circle cx="211.6" cy="670.8" r="2.1" opacity="0.74"/><circle cx="114.9" cy="560.6" r="2.1" opacity="0.46"/><circle cx="183.4" cy="730" r="1.9" opacity="0.32"/><circle cx="85.9" cy="602.4" r="1.4" opacity="0.47"/><circle cx="133.6" cy="654.2" r="1.3" opacity="0.48"/><circle cx="177.3" cy="641.3" r="2.2" opacity="0.40"/><circle cx="51.2" cy="713.9" r="2" opacity="0.52"/><circle cx="221.8" cy="668.9" r="1.4" opacity="0.76"/><circle cx="159.6" cy="700.9" r="2.1" opacity="0.32"/><circle cx="23.2" cy="693.1" r="1.9" opacity="0.32"/><circle cx="164.2" cy="654.9" r="2.1" opacity="0.43"/><circle cx="127.7" cy="564.7" r="1.4" opacity="0.44"/><circle cx="236.1" cy="631.4" r="1.3" opacity="0.66"/><circle cx="100.2" cy="693.2" r="1" opacity="0.68"/><circle cx="226.5" cy="614.1" r="2.1" opacity="0.31"/><circle cx="139.8" cy="711.7" r="2.1" opacity="0.78"/><circle cx="76.9" cy="679.5" r="1.5" opacity="0.55"/><circle cx="183.9" cy="633.2" r="2" opacity="0.67"/><circle cx="492.7" cy="301.1" r="1.7" opacity="0.46"/><circle cx="422" cy="434.5" r="1.9" opacity="0.34"/><circle cx="481" cy="462.1" r="1.3" opacity="0.33"/><circle cx="529.9" cy="395.7" r="1.4" opacity="0.79"/><circle cx="531.3" cy="313.6" r="1.3" opacity="0.34"/><circle cx="513.8" cy="420.2" r="1.9" opacity="0.52"/><circle cx="457" cy="444.2" r="1.7" opacity="0.64"/><circle cx="448.7" cy="288" r="1.8" opacity="0.36"/><circle cx="482.2" cy="334.4" r="1.7" opacity="0.49"/><circle cx="446.3" cy="335.5" r="1.3" opacity="0.42"/><circle cx="509" cy="457.2" r="1.7" opacity="0.46"/><circle cx="363" cy="440.5" r="1.6" opacity="0.42"/><circle cx="481.9" cy="304.6" r="2.2" opacity="0.35"/><circle cx="351.7" cy="394.3" r="2" opacity="0.76"/><circle cx="507.7" cy="393.6" r="1.1" opacity="0.39"/><circle cx="532.8" cy="367.1" r="2.1" opacity="0.49"/><circle cx="499.1" cy="330" r="1.3" opacity="0.69"/><circle cx="483.7" cy="369.1" r="1.7" opacity="0.61"/><circle cx="463.5" cy="439.5" r="1.2" opacity="0.40"/><circle cx="447.4" cy="457.4" r="1.8" opacity="0.40"/><circle cx="512.8" cy="384.1" r="1.8" opacity="0.39"/><circle cx="431.1" cy="421.7" r="2" opacity="0.57"/><circle cx="482.3" cy="392.3" r="1.5" opacity="0.58"/><circle cx="428.7" cy="356.8" r="1.2" opacity="0.65"/><circle cx="400.6" cy="408.6" r="1.4" opacity="0.78"/><circle cx="418.4" cy="449.6" r="1.4" opacity="0.51"/><circle cx="522.2" cy="304.8" r="1.4" opacity="0.40"/><circle cx="443.2" cy="335.3" r="1" opacity="0.75"/><circle cx="361.6" cy="421.7" r="1.5" opacity="0.74"/><circle cx="407" cy="389.8" r="1" opacity="0.58"/><circle cx="383.5" cy="306.3" r="1.1" opacity="0.61"/><circle cx="396.2" cy="431.5" r="1.2" opacity="0.44"/><circle cx="345.1" cy="367.2" r="1.1" opacity="0.55"/><circle cx="486.5" cy="287.4" r="1.2" opacity="0.36"/><circle cx="551.8" cy="345.4" r="1.6" opacity="0.33"/><circle cx="511.3" cy="352.1" r="2.1" opacity="0.61"/><circle cx="469.9" cy="344.3" r="1.9" opacity="0.41"/><circle cx="366.5" cy="432" r="2" opacity="0.39"/><circle cx="463.8" cy="442" r="1.6" opacity="0.49"/><circle cx="489.1" cy="414.7" r="1.9" opacity="0.75"/><circle cx="445" cy="711.5" r="1.9" opacity="0.11"/><circle cx="336.1" cy="682.5" r="1.7" opacity="0.27"/><circle cx="222.8" cy="676.2" r="1.5" opacity="0.27"/><circle cx="155" cy="721.9" r="1.5" opacity="0.23"/><circle cx="455.6" cy="706.9" r="1.6" opacity="0.17"/><circle cx="315" cy="647.2" r="1.5" opacity="0.15"/><circle cx="235.5" cy="703.3" r="1.2" opacity="0.23"/><circle cx="411.5" cy="721.7" r="1.6" opacity="0.11"/><circle cx="262.5" cy="687" r="1.9" opacity="0.33"/><circle cx="253.5" cy="699" r="1.6" opacity="0.21"/><circle cx="370.3" cy="693.3" r="2" opacity="0.40"/><circle cx="279.7" cy="646.2" r="1.2" opacity="0.39"/><circle cx="104.6" cy="703" r="2.1" opacity="0.15"/><circle cx="346.1" cy="643.8" r="1.1" opacity="0.21"/><circle cx="303.1" cy="676.1" r="2.1" opacity="0.18"/><circle cx="330.4" cy="679.2" r="1.6" opacity="0.38"/><circle cx="326.5" cy="729.7" r="1.6" opacity="0.20"/><circle cx="383.1" cy="705.9" r="1.2" opacity="0.38"/><circle cx="219.1" cy="648.7" r="1.2" opacity="0.34"/><circle cx="409.2" cy="728.9" r="1.8" opacity="0.21"/><circle cx="404" cy="668" r="1.7" opacity="0.36"/><circle cx="457.8" cy="736.5" r="1.8" opacity="0.22"/><circle cx="330.4" cy="670.5" r="2.2" opacity="0.27"/><circle cx="188.3" cy="740.4" r="1.5" opacity="0.15"/><circle cx="298.2" cy="686.8" r="2" opacity="0.18"/><circle cx="172.8" cy="654.3" r="1.7" opacity="0.30"/><circle cx="296.8" cy="702.3" r="1" opacity="0.14"/><circle cx="201.9" cy="673.7" r="1.6" opacity="0.37"/><circle cx="364.4" cy="721.1" r="1.8" opacity="0.11"/><circle cx="419.1" cy="700.6" r="1.1" opacity="0.21"/></g><g fill="#3fb82c" filter="url(#org3)"><ellipse cx="124.6" cy="704" rx="4.9" ry="1.6" opacity="0.45"/><ellipse cx="82.5" cy="645" rx="6.2" ry="1.7" opacity="0.26"/><ellipse cx="191.5" cy="706.1" rx="6" ry="2.3" opacity="0.36"/><ellipse cx="121.9" cy="660.9" rx="5.1" ry="2.1" opacity="0.34"/><ellipse cx="88.7" cy="608.8" rx="6.2" ry="2.3" opacity="0.30"/><ellipse cx="147" cy="654.3" rx="4.6" ry="1.9" opacity="0.30"/><ellipse cx="213" cy="704.2" rx="2.5" ry="2.1" opacity="0.58"/><ellipse cx="150.3" cy="685.9" rx="4.9" ry="2" opacity="0.46"/><ellipse cx="150.9" cy="638.3" rx="3.7" ry="1.8" opacity="0.22"/><ellipse cx="213.4" cy="646.8" rx="5.4" ry="1.4" opacity="0.54"/><ellipse cx="135.7" cy="614" rx="5.5" ry="1.9" opacity="0.29"/><ellipse cx="162.7" cy="686.6" rx="2.7" ry="1.8" opacity="0.50"/><ellipse cx="106.1" cy="592.5" rx="5.3" ry="1.7" opacity="0.42"/><ellipse cx="25.1" cy="645.2" rx="4.6" ry="1.7" opacity="0.46"/><ellipse cx="178.8" cy="665.9" rx="6" ry="1.4" opacity="0.30"/><ellipse cx="117.1" cy="708.5" rx="6.3" ry="2.3" opacity="0.33"/><ellipse cx="180.2" cy="647.4" rx="3.5" ry="2.5" opacity="0.45"/><ellipse cx="106.9" cy="599.3" rx="6.4" ry="2" opacity="0.54"/><ellipse cx="107.6" cy="592.2" rx="4.2" ry="2.3" opacity="0.43"/><ellipse cx="98.1" cy="674.3" rx="5" ry="1.5" opacity="0.56"/><ellipse cx="134" cy="666.4" rx="2.9" ry="2.5" opacity="0.34"/><ellipse cx="134.6" cy="666.7" rx="2.7" ry="2.2" opacity="0.45"/><ellipse cx="108.5" cy="596.8" rx="2.8" ry="2.1" opacity="0.35"/><ellipse cx="183.4" cy="620.2" rx="6.1" ry="1.5" opacity="0.55"/><ellipse cx="229.8" cy="656.6" rx="2.9" ry="1.6" opacity="0.24"/><ellipse cx="223.8" cy="700" rx="5.7" ry="2.2" opacity="0.53"/><ellipse cx="91.1" cy="618.3" rx="2.9" ry="1.5" opacity="0.50"/><ellipse cx="132.6" cy="692.8" rx="4.2" ry="1.4" opacity="0.30"/><ellipse cx="89.5" cy="697.5" rx="4" ry="1.8" opacity="0.59"/><ellipse cx="20.1" cy="619.5" rx="5" ry="1.4" opacity="0.37"/><ellipse cx="26" cy="645.1" rx="3.9" ry="2.2" opacity="0.42"/><ellipse cx="129.7" cy="715.7" rx="2.9" ry="2.4" opacity="0.27"/><ellipse cx="176.2" cy="671.9" rx="5.5" ry="2.6" opacity="0.20"/><ellipse cx="44.3" cy="631.4" rx="5.7" ry="1.6" opacity="0.40"/><ellipse cx="51" cy="679.7" rx="3.5" ry="2.5" opacity="0.31"/><ellipse cx="130.4" cy="709.9" rx="4.5" ry="1.5" opacity="0.45"/><ellipse cx="205.2" cy="709.2" rx="5.3" ry="2.3" opacity="0.45"/><ellipse cx="70.9" cy="670" rx="4.1" ry="2.5" opacity="0.23"/><ellipse cx="140.8" cy="653.5" rx="3.3" ry="1.7" opacity="0.56"/><ellipse cx="54.8" cy="631.9" rx="6" ry="1.7" opacity="0.38"/><ellipse cx="31.1" cy="613.3" rx="5.5" ry="2.2" opacity="0.34"/><ellipse cx="97.5" cy="668.8" rx="5.9" ry="2.2" opacity="0.50"/><ellipse cx="150.5" cy="701.1" rx="5.6" ry="2.1" opacity="0.25"/><ellipse cx="16.4" cy="634.2" rx="3.5" ry="1.6" opacity="0.32"/><ellipse cx="111.4" cy="593.3" rx="3.1" ry="1.6" opacity="0.30"/><ellipse cx="74.6" cy="680.4" rx="3.1" ry="1.8" opacity="0.28"/><ellipse cx="223.8" cy="678.4" rx="2.9" ry="2.6" opacity="0.24"/><ellipse cx="27.8" cy="666.4" rx="5.7" ry="2.3" opacity="0.37"/><ellipse cx="140.8" cy="709.3" rx="2.9" ry="1.6" opacity="0.36"/><ellipse cx="192.9" cy="685.8" rx="5.7" ry="2.2" opacity="0.40"/><ellipse cx="82.3" cy="608.3" rx="3.1" ry="2.1" opacity="0.36"/><ellipse cx="137" cy="596.9" rx="4.2" ry="2.1" opacity="0.50"/><ellipse cx="72.6" cy="652.8" rx="5.4" ry="2.5" opacity="0.51"/><ellipse cx="109.3" cy="592.7" rx="5.2" ry="2.2" opacity="0.38"/><ellipse cx="76.1" cy="686.8" rx="2.9" ry="1.9" opacity="0.51"/><ellipse cx="119" cy="602.7" rx="3.5" ry="1.9" opacity="0.38"/><ellipse cx="80.7" cy="611.8" rx="5.2" ry="2.5" opacity="0.27"/><ellipse cx="82.1" cy="593.6" rx="4.1" ry="2" opacity="0.59"/><ellipse cx="203.4" cy="691.9" rx="3.1" ry="2.3" opacity="0.58"/><ellipse cx="89.7" cy="641" rx="4.8" ry="2" opacity="0.49"/><ellipse cx="35.2" cy="621.8" rx="5.8" ry="2" opacity="0.36"/><ellipse cx="177.4" cy="662.4" rx="5.2" ry="1.9" opacity="0.51"/><ellipse cx="193.2" cy="722.1" rx="3.9" ry="1.5" opacity="0.31"/><ellipse cx="113.1" cy="655.6" rx="4.2" ry="1.9" opacity="0.48"/><ellipse cx="81.9" cy="667.9" rx="3.4" ry="2.3" opacity="0.58"/><ellipse cx="73.9" cy="633.2" rx="5.7" ry="1.9" opacity="0.28"/><ellipse cx="181.9" cy="715.2" rx="5.7" ry="2.2" opacity="0.39"/><ellipse cx="78.3" cy="628" rx="6.4" ry="1.8" opacity="0.46"/><ellipse cx="183.9" cy="620.6" rx="4.4" ry="1.8" opacity="0.42"/><ellipse cx="186.2" cy="717" rx="3.9" ry="2.4" opacity="0.31"/><ellipse cx="77.3" cy="662.5" rx="4.2" ry="1.6" opacity="0.20"/><ellipse cx="124.3" cy="620.8" rx="3.5" ry="1.8" opacity="0.39"/><ellipse cx="36.3" cy="648.8" rx="5.1" ry="1.8" opacity="0.57"/><ellipse cx="145.3" cy="649.2" rx="5.8" ry="2.5" opacity="0.51"/><ellipse cx="177.6" cy="718" rx="5" ry="1.4" opacity="0.20"/><ellipse cx="499.1" cy="368.6" rx="3.5" ry="1.5" opacity="0.26"/><ellipse cx="451.3" cy="444.6" rx="3.9" ry="1.6" opacity="0.56"/><ellipse cx="452.4" cy="358.1" rx="6.1" ry="2.1" opacity="0.51"/><ellipse cx="412.6" cy="329" rx="5.7" ry="2.4" opacity="0.28"/><ellipse cx="427.1" cy="338.6" rx="5.5" ry="1.9" opacity="0.55"/><ellipse cx="411.1" cy="373.1" rx="3.4" ry="1.6" opacity="0.40"/><ellipse cx="489.7" cy="401.7" rx="3.1" ry="2" opacity="0.40"/><ellipse cx="382" cy="369.5" rx="2.5" ry="2.4" opacity="0.39"/><ellipse cx="392.3" cy="363.8" rx="5.9" ry="1.8" opacity="0.37"/><ellipse cx="463.6" cy="380.4" rx="5" ry="2.2" opacity="0.21"/><ellipse cx="400.4" cy="349.3" rx="6.2" ry="1.8" opacity="0.59"/><ellipse cx="396.4" cy="381.8" rx="6.1" ry="1.4" opacity="0.49"/><ellipse cx="416.2" cy="357" rx="5.9" ry="1.8" opacity="0.39"/><ellipse cx="384.3" cy="375.5" rx="3.3" ry="1.9" opacity="0.37"/><ellipse cx="385" cy="364.4" rx="3.7" ry="2.4" opacity="0.36"/><ellipse cx="408.5" cy="384.2" rx="4.5" ry="2.6" opacity="0.46"/><ellipse cx="455.5" cy="347.2" rx="3.8" ry="1.8" opacity="0.43"/><ellipse cx="404" cy="339.9" rx="2.7" ry="2.3" opacity="0.55"/><ellipse cx="430" cy="380.7" rx="3.7" ry="1.4" opacity="0.28"/><ellipse cx="493.1" cy="359.9" rx="5.1" ry="2.3" opacity="0.56"/><ellipse cx="403" cy="350.5" rx="5" ry="2.2" opacity="0.44"/><ellipse cx="431.4" cy="356.6" rx="5.2" ry="1.9" opacity="0.51"/><ellipse cx="469" cy="402.2" rx="2.6" ry="2.3" opacity="0.57"/><ellipse cx="421.3" cy="350.7" rx="5.8" ry="2.3" opacity="0.42"/><ellipse cx="443.1" cy="422.3" rx="4.2" ry="1.8" opacity="0.37"/><ellipse cx="402.5" cy="333.9" rx="2.7" ry="2.1" opacity="0.22"/><ellipse cx="491.2" cy="426.6" rx="4.8" ry="2.5" opacity="0.38"/><ellipse cx="488.4" cy="388.8" rx="4.9" ry="2.5" opacity="0.59"/><ellipse cx="400.6" cy="391.7" rx="2.9" ry="2.2" opacity="0.28"/><ellipse cx="450" cy="391.9" rx="2.5" ry="2.2" opacity="0.25"/><ellipse cx="465.3" cy="380.8" rx="6" ry="1.6" opacity="0.21"/><ellipse cx="438.4" cy="352.1" rx="5.4" ry="1.6" opacity="0.22"/><ellipse cx="453.9" cy="328.2" rx="5.9" ry="2.3" opacity="0.23"/><ellipse cx="404.3" cy="343.6" rx="4.3" ry="2.5" opacity="0.30"/><ellipse cx="502.8" cy="372.2" rx="2.5" ry="1.4" opacity="0.46"/><ellipse cx="453.1" cy="367.5" rx="3.7" ry="2.3" opacity="0.27"/><ellipse cx="476.3" cy="348.6" rx="2.7" ry="1.8" opacity="0.43"/><ellipse cx="391.6" cy="406" rx="3.1" ry="2.4" opacity="0.35"/><ellipse cx="410.9" cy="342.4" rx="4.2" ry="1.9" opacity="0.51"/><ellipse cx="503.3" cy="364.6" rx="4.8" ry="1.8" opacity="0.22"/><ellipse cx="502.9" cy="375.7" rx="5.8" ry="1.8" opacity="0.44"/><ellipse cx="508.2" cy="376.2" rx="4.9" ry="1.8" opacity="0.37"/></g><g fill="#62f03e" filter="url(#org3)"><ellipse cx="23.8" cy="570.9" rx="4.3" ry="2.3" opacity="1"/><ellipse cx="29.5" cy="579.5" rx="3.6" ry="1.9" opacity="1"/><ellipse cx="58.3" cy="593.2" rx="2.9" ry="2.6" opacity="1"/><ellipse cx="26.6" cy="603.3" rx="6.5" ry="2.6" opacity="1"/><ellipse cx="36.7" cy="599" rx="2.9" ry="1.9" opacity="1"/><ellipse cx="84.2" cy="606.2" rx="5" ry="2.6" opacity="1"/><ellipse cx="66.9" cy="611.9" rx="4.3" ry="3.2" opacity="1"/><ellipse cx="58.3" cy="610.5" rx="2.5" ry="1.9" opacity="1"/><ellipse cx="41" cy="614.8" rx="5" ry="3.2" opacity="0.5"/><ellipse cx="78.4" cy="624.8" rx="3.6" ry="3.2" opacity="1"/><ellipse cx="98.5" cy="622" rx="4.3" ry="1.9" opacity="0.7"/><ellipse cx="107.2" cy="633.5" rx="9.3" ry="2.9" opacity="1"/><ellipse cx="133" cy="635.6" rx="7.9" ry="2.3" opacity="0.8"/><ellipse cx="33.8" cy="638.5" rx="4.3" ry="2.6" opacity="1"/><ellipse cx="66.9" cy="639.9" rx="4.3" ry="3.2" opacity="0.7"/><ellipse cx="87" cy="629.2" rx="3.6" ry="1.9" opacity="0.7"/><ellipse cx="48.2" cy="657.9" rx="5" ry="2.3" opacity="1"/><ellipse cx="68.3" cy="660.8" rx="11.5" ry="3.2" opacity="1"/><ellipse cx="91.3" cy="660.8" rx="4.3" ry="3.2" opacity="0.8"/><ellipse cx="118.7" cy="657.9" rx="5" ry="2.6" opacity="0.6"/><ellipse cx="153.2" cy="655" rx="2.2" ry="2.6" opacity="0.6"/><ellipse cx="178.3" cy="664.4" rx="5.8" ry="3.2" opacity="0.9"/><ellipse cx="79.8" cy="673.7" rx="7.9" ry="2.6" opacity="1"/><ellipse cx="94.2" cy="674.5" rx="3.6" ry="2.3" opacity="1"/><ellipse cx="111.5" cy="672.3" rx="8.6" ry="6.5" opacity="0.3"/><ellipse cx="133" cy="673" rx="4.3" ry="3.2" opacity="0.9"/><ellipse cx="143.1" cy="675.2" rx="4.3" ry="2.6" opacity="0.9"/><ellipse cx="46.8" cy="678.8" rx="5" ry="2.6" opacity="0.8"/><ellipse cx="35.3" cy="674.5" rx="2.2" ry="1.9" opacity="0.8"/><ellipse cx="133.8" cy="683.8" rx="7.9" ry="2.6" opacity="1"/><ellipse cx="162.5" cy="681.6" rx="3.6" ry="3.2" opacity="0.9"/><ellipse cx="184.8" cy="683.8" rx="5.8" ry="4.5" opacity="0.9"/><ellipse cx="174" cy="687.4" rx="2.9" ry="2.3" opacity="0.9"/><ellipse cx="197" cy="682.4" rx="2.2" ry="1.9" opacity="0.6"/><ellipse cx="61.1" cy="690.3" rx="5" ry="3.2" opacity="0.8"/><ellipse cx="89.2" cy="694.2" rx="5" ry="1.9" opacity="1"/><ellipse cx="110" cy="694.6" rx="2.9" ry="2.6" opacity="0.6"/><ellipse cx="98.5" cy="688.1" rx="2.2" ry="1.9" opacity="0.7"/><ellipse cx="32.4" cy="701.1" rx="5" ry="2.3" opacity="0.7"/><ellipse cx="157.5" cy="701.1" rx="7.9" ry="2.9" opacity="0.9"/><ellipse cx="197.8" cy="700.3" rx="7.2" ry="2.3" opacity="1"/><ellipse cx="223.6" cy="706.8" rx="7.9" ry="2.6" opacity="1"/><ellipse cx="177.6" cy="706.1" rx="3.6" ry="2.6" opacity="0.9"/><ellipse cx="134.5" cy="707.5" rx="4.3" ry="2.6" opacity="0.9"/><ellipse cx="206.4" cy="708.3" rx="2.9" ry="1.9" opacity="0.9"/><ellipse cx="123" cy="714.7" rx="3.6" ry="1.6" opacity="0.8"/><ellipse cx="176.9" cy="715.4" rx="4.3" ry="1.9" opacity="0.9"/><ellipse cx="41" cy="714" rx="4.3" ry="1.9" opacity="0.6"/><ellipse cx="140.2" cy="718.3" rx="2.9" ry="3.2" opacity="0.7"/><ellipse cx="161.8" cy="721.9" rx="5.8" ry="3.2" opacity="0.5"/><ellipse cx="75.5" cy="724.1" rx="6.5" ry="1.9" opacity="0.5"/><ellipse cx="149.6" cy="726.9" rx="3.6" ry="1.6" opacity="0.8"/><ellipse cx="100" cy="728.4" rx="5" ry="1.5" opacity="0.5"/><ellipse cx="143.1" cy="735.6" rx="3.6" ry="1.5" opacity="0.8"/><ellipse cx="133" cy="740.6" rx="2.2" ry="1.5" opacity="0.6"/><ellipse cx="222.2" cy="695.3" rx="2.9" ry="1.9" opacity="0.6"/><ellipse cx="23.8" cy="650" rx="2.2" ry="1.6" opacity="0.8"/><ellipse cx="100" cy="647.9" rx="2.9" ry="2.6" opacity="0.5"/><ellipse cx="117.2" cy="647.1" rx="3.6" ry="1.9" opacity="0.5"/><ellipse cx="434.7" cy="307.6" rx="3.8" ry="2.7" opacity="0.7"/><ellipse cx="460.2" cy="306.8" rx="4.5" ry="3.4" opacity="0.7"/><ellipse cx="479.8" cy="300.1" rx="3" ry="2.7" opacity="0.5"/><ellipse cx="478.3" cy="309.8" rx="5.3" ry="4.1" opacity="0.7"/><ellipse cx="461.7" cy="319.6" rx="8.3" ry="3.4" opacity="1"/><ellipse cx="512.8" cy="302.3" rx="2.3" ry="2" opacity="0.5"/><ellipse cx="497.1" cy="323.4" rx="4.5" ry="3.4" opacity="0.8"/><ellipse cx="449" cy="328.6" rx="6" ry="2.4" opacity="0.8"/><ellipse cx="482" cy="330.1" rx="4.5" ry="3" opacity="1"/><ellipse cx="430.9" cy="345.9" rx="3" ry="3.4" opacity="0.8"/><ellipse cx="445.2" cy="345.9" rx="5.3" ry="2.7" opacity="0.7"/><ellipse cx="488" cy="345.1" rx="3.8" ry="2.4" opacity="0.5"/><ellipse cx="474.5" cy="352.7" rx="2.3" ry="2" opacity="0.7"/><ellipse cx="455.7" cy="357.9" rx="9" ry="2" opacity="0.5"/><ellipse cx="413.6" cy="364.7" rx="9" ry="3.4" opacity="1"/><ellipse cx="391.1" cy="365.4" rx="9" ry="2.4" opacity="0.8"/><ellipse cx="431.7" cy="363.2" rx="1.9" ry="1.7" opacity="0.7"/><ellipse cx="436.2" cy="373" rx="6.8" ry="3.4" opacity="0.6"/><ellipse cx="385.1" cy="378.2" rx="8.3" ry="3" opacity="0.8"/><ellipse cx="415.1" cy="376.7" rx="2.3" ry="2" opacity="0.8"/><ellipse cx="400.9" cy="382" rx="3.8" ry="1.7" opacity="0.6"/><ellipse cx="465.5" cy="380.5" rx="6.8" ry="2.4" opacity="0.6"/><ellipse cx="443.7" cy="388.7" rx="3.8" ry="2" opacity="0.8"/><ellipse cx="431.7" cy="385.7" rx="3" ry="2" opacity="0.5"/><ellipse cx="396.4" cy="391.7" rx="6" ry="2.7" opacity="0.5"/><ellipse cx="415.1" cy="397.8" rx="3.8" ry="2.4" opacity="0.7"/><ellipse cx="474.5" cy="395.5" rx="2.3" ry="1.7" opacity="0.6"/><ellipse cx="427.2" cy="405.3" rx="2.3" ry="2" opacity="0.7"/><ellipse cx="400.9" cy="406.8" rx="5.3" ry="4.1" opacity="0.8"/><ellipse cx="392.6" cy="407.5" rx="2.3" ry="1.5" opacity="0.6"/><ellipse cx="485" cy="405.3" rx="2.6" ry="2" opacity="0.5"/><ellipse cx="431.7" cy="418" rx="3.8" ry="3.4" opacity="0.8"/><ellipse cx="396.4" cy="421.8" rx="6" ry="4.7" opacity="1"/><ellipse cx="448.2" cy="427.8" rx="3.4" ry="4.7" opacity="1"/><ellipse cx="419.7" cy="433.8" rx="4.5" ry="2.7" opacity="0.9"/><ellipse cx="430.2" cy="434.6" rx="3.8" ry="2.4" opacity="0.9"/><ellipse cx="518.9" cy="430.8" rx="3.8" ry="2" opacity="0.6"/><ellipse cx="526.4" cy="428.6" rx="2.3" ry="1.5" opacity="0.5"/><ellipse cx="472.3" cy="439.1" rx="6.8" ry="4.1" opacity="1"/><ellipse cx="482.8" cy="445.8" rx="5.3" ry="2.7" opacity="1"/><ellipse cx="535.4" cy="445.1" rx="2.6" ry="3.7" opacity="1"/><ellipse cx="506.1" cy="456.4" rx="5.3" ry="2.4" opacity="1"/><ellipse cx="481.3" cy="470.6" rx="3.8" ry="2" opacity="0.8"/><ellipse cx="523.4" cy="407.5" rx="4.5" ry="1.7" opacity="0.4"/><ellipse cx="539.9" cy="402.3" rx="3.8" ry="2" opacity="0.4"/><ellipse cx="569.2" cy="305.3" rx="2.3" ry="2" opacity="0.4"/></g><path d="M418.7 321.8C417.3 318.6 417.4 313.1 411 310.2C404.6 307.4 391.7 304.6 380.1 304.5C368.6 304.3 354.4 306.6 341.6 309.5C328.7 312.4 314.6 316.5 303 321.8C291.5 327.1 283.8 332.7 272.2 341.1C260.6 349.4 246.5 361 233.6 371.9C220.8 382.9 207.9 393.8 195.1 406.6C182.2 419.5 169.4 435.6 156.5 449.1C143.7 462.5 130.8 475.4 118 487.6C105.1 499.8 90.3 512 79.4 522.3C68.5 532.6 58.2 542.2 52.4 549.3C46.6 556.4 44.1 559.6 44.7 564.7C45.3 569.9 49.2 575.7 56.3 580.1C63.3 584.6 76.2 587.2 87.1 591.7C98 596.2 110.2 600.1 121.8 607.1C133.4 614.2 144.3 625.8 156.5 634.1C168.7 642.5 181.6 651.8 195.1 657.3C208.6 662.7 223.3 666.3 237.5 666.9C251.6 667.5 265.1 664.7 279.9 661.1C294.7 657.6 310.1 651.5 326.2 645.7C342.2 639.9 360.9 632.8 376.3 626.4C391.7 620 405.9 614.9 418.7 607.1C431.6 599.4 443.1 591.7 453.4 580.1C463.7 568.6 473.3 550.6 480.4 537.7C487.5 524.9 492.7 513.3 495.8 503C498.9 492.8 500.8 481.8 498.9 476C497 470.3 491.2 471 484.3 468.3C477.3 465.6 466.3 461.5 457.3 459.9C448.3 458.2 439.9 461.1 430.3 458.7C420.6 456.3 409.1 451.3 399.4 445.2C389.8 439.1 380.1 430.4 372.4 422.1C364.7 413.7 357 403.4 353.2 395.1C349.3 386.7 348 378 349.3 371.9C350.6 365.8 353.8 361.8 360.9 358.4C367.9 355.1 383.4 354.1 391.7 351.9C400.1 349.6 406.4 348.7 411 345C415.6 341.2 418.2 333.4 419.5 329.5C420.8 325.7 420.1 325 418.7 321.8Z" fill="none" stroke="#b2b2b2" stroke-width="3" stroke-dasharray="13.5 10"/></g><rect x="624" y="218" width="284" height="578" fill="#120300"/><clipPath id="cr"><rect x="624" y="218" width="284" height="578"/></clipPath><g clip-path="url(#cr)"><rect x="624" y="218" width="284" height="578" filter="url(#nzr)" opacity=".24"/><g filter="url(#b12)"><ellipse cx="717" cy="351.2" rx="64.7" ry="84.3" fill="#000" opacity="0.9"/><ellipse cx="889.5" cy="327.6" rx="21.6" ry="74.5" fill="#040100" opacity="0.6"/><ellipse cx="650.3" cy="725.5" rx="39.2" ry="68.6" fill="#000" opacity="0.85"/><ellipse cx="860.1" cy="598" rx="35.3" ry="35.3" fill="#020000" opacity="0.7"/></g><g filter="url(#b10)" opacity=".9"><ellipse cx="764" cy="649" rx="39.2" ry="35.3" fill="#1f5e1c" opacity="0.8"/><ellipse cx="791.5" cy="676.5" rx="37.3" ry="33.3" fill="#1f5e1c" opacity="0.8"/><ellipse cx="846.4" cy="523.5" rx="29.4" ry="29.4" fill="#2a7a24" opacity="0.9"/><ellipse cx="832.6" cy="376.7" rx="33.3" ry="74.5" fill="#1c5a18" opacity="0.8" transform="rotate(10 832.6 376.7)"/><ellipse cx="748.3" cy="455.1" rx="27.5" ry="58.8" fill="#184c14" opacity="0.8" transform="rotate(8 748.3 455.1)"/></g><g filter="url(#org)"><ellipse cx="679.7" cy="249.2" rx="14.9" ry="19.6" fill="#a83c1c" opacity="0.95"/><ellipse cx="673.8" cy="275.7" rx="14.9" ry="14.1" fill="#256a1e" opacity="0.9"/><ellipse cx="746.4" cy="255.1" rx="17.3" ry="19.6" fill="#b42a18"/><ellipse cx="844.4" cy="241.4" rx="16.5" ry="18.8" fill="#3c9a2e"/><ellipse cx="834.6" cy="315.9" rx="16.5" ry="14.1" fill="#338a2a"/><ellipse cx="838.5" cy="337.5" rx="15.7" ry="12.5" fill="#4cc238"/><ellipse cx="845.4" cy="356.1" rx="15.7" ry="13.3" fill="#c26a20" opacity="0.95"/><ellipse cx="827.7" cy="386.5" rx="14.9" ry="26.7" fill="#56d83c" transform="rotate(14 827.7 386.5)"/><ellipse cx="830.7" cy="421.8" rx="18.8" ry="14.9" fill="#3aa02e"/><ellipse cx="856.2" cy="432.5" rx="19.6" ry="8.6" fill="#2f8a28" opacity="0.85" transform="rotate(20 856.2 432.5)"/><ellipse cx="748.3" cy="413.9" rx="12.5" ry="10.2" fill="#2c7a24" opacity="0.95"/><ellipse cx="752.3" cy="426.7" rx="11" ry="7.8" fill="#a8441c" opacity="0.95"/><ellipse cx="750.3" cy="442.4" rx="11.8" ry="9.4" fill="#50c23a"/><ellipse cx="749.3" cy="462" rx="10.7" ry="8.2" fill="#b0b432"/><ellipse cx="746" cy="482.5" rx="14.4" ry="18.5" fill="#62dc40" transform="rotate(12 746 482.5)"/><ellipse cx="838.5" cy="464.9" rx="16.5" ry="16.5" fill="#e63820"/><ellipse cx="852.3" cy="502.2" rx="8.2" ry="9.7" fill="#3fae30"/><ellipse cx="626.8" cy="298.2" rx="3.9" ry="9.4" fill="#2c7a24" opacity="0.9"/><ellipse cx="905.2" cy="445.3" rx="3.9" ry="9.4" fill="#8a2412" opacity="0.9"/><ellipse cx="748.3" cy="534.3" rx="16.5" ry="10.7" fill="#60e044"/><ellipse cx="752.3" cy="556.9" rx="13.3" ry="10.2" fill="#80641e" opacity="0.95"/><ellipse cx="648.3" cy="578.4" rx="13.3" ry="9.1" fill="#52dc3e"/><ellipse cx="679.7" cy="600" rx="14.9" ry="6.3" fill="#3eb030" transform="rotate(22 679.7 600)"/><ellipse cx="846.4" cy="523.5" rx="20.4" ry="20.4" fill="#2c7a26" opacity="0.9"/><ellipse cx="715" cy="647.1" rx="18.8" ry="16.9" fill="#e23a20"/><ellipse cx="767.9" cy="649" rx="26.7" ry="23.5" fill="#2a7a26" opacity="0.8"/><ellipse cx="791.5" cy="676.5" rx="25.1" ry="23.5" fill="#287424" opacity="0.8"/><ellipse cx="875.8" cy="672.5" rx="17.3" ry="19.6" fill="#5a7a28" opacity="0.95"/><ellipse cx="895.4" cy="718.6" rx="12.2" ry="14.4" fill="#e0541e"/><ellipse cx="897.4" cy="756.9" rx="9.1" ry="16.5" fill="#2f8a28" opacity="0.9"/><ellipse cx="709.1" cy="694.1" rx="15.7" ry="4.7" fill="#48c034" opacity="0.9"/><ellipse cx="811.1" cy="794.1" rx="51.8" ry="2.8" fill="#4ab030" opacity="0.9"/><ellipse cx="626.8" cy="513.7" rx="7.1" ry="4.4" fill="#c02c18" opacity="0.9"/><ellipse cx="638.5" cy="552.9" rx="8.6" ry="3.1" fill="#a82a16" opacity="0.8" transform="rotate(-30 638.5 552.9)"/><ellipse cx="885.6" cy="539.2" rx="9.4" ry="14.1" fill="#6a2a14" opacity="0.7"/></g><g filter="url(#org2)"><ellipse cx="701.3" cy="229.6" rx="7.8" ry="6" fill="#62e844"/><ellipse cx="850.3" cy="231.6" rx="6.6" ry="7.5" fill="#5fe040"/><ellipse cx="832.6" cy="242.4" rx="6" ry="5" fill="#4fd03a" opacity="0.9"/><ellipse cx="843.4" cy="268.8" rx="7.5" ry="3.5" fill="#6af048"/><ellipse cx="841.5" cy="355.1" rx="7.1" ry="7.5" fill="#e8e838"/><ellipse cx="842.5" cy="335.5" rx="7.1" ry="6.3" fill="#70ee4a"/><ellipse cx="822.8" cy="394.3" rx="8.6" ry="15.7" fill="#6cf048" opacity="0.9" transform="rotate(14 822.8 394.3)"/><ellipse cx="828.7" cy="413.9" rx="7.8" ry="6.3" fill="#56d03c" opacity="0.7"/><ellipse cx="744.4" cy="484.5" rx="8.6" ry="12.5" fill="#7cee48" opacity="0.9" transform="rotate(12 744.4 484.5)"/><ellipse cx="750.3" cy="443.3" rx="6.3" ry="5.5" fill="#66e444" opacity="0.8"/><ellipse cx="626.8" cy="353.1" rx="2.8" ry="2.2" fill="#52d83a"/><ellipse cx="648.3" cy="350.2" rx="2.2" ry="2.2" fill="#42b830"/><ellipse cx="649.3" cy="383.5" rx="1.9" ry="1.9" fill="#42b830"/><ellipse cx="867.9" cy="475.7" rx="3.1" ry="2.2" fill="#52d83a"/><ellipse cx="740.5" cy="534.3" rx="7.1" ry="5" fill="#80f850"/><ellipse cx="757.2" cy="531.4" rx="6" ry="4.7" fill="#7af04c"/><ellipse cx="754.2" cy="519.6" rx="2.2" ry="2.2" fill="#a0f860"/><ellipse cx="646.4" cy="578.4" rx="7.8" ry="5" fill="#6cf048"/><ellipse cx="686.6" cy="602" rx="5" ry="3.5" fill="#58e040"/><ellipse cx="854.2" cy="507.8" rx="7.5" ry="6.6" fill="#5ce040"/><ellipse cx="832.6" cy="541.2" rx="6.6" ry="5" fill="#4cc838"/><ellipse cx="756.2" cy="656.9" rx="7.1" ry="6.3" fill="#3a9a30" opacity="0.7"/><ellipse cx="803.2" cy="652.9" rx="7.1" ry="9.4" fill="#3a9a30" opacity="0.7"/><ellipse cx="744.4" cy="619.6" rx="6" ry="6" fill="#42b030" opacity="0.9"/><ellipse cx="791.5" cy="621.6" rx="6.3" ry="4.7" fill="#3ca830" opacity="0.8"/><ellipse cx="717" cy="646.1" rx="12.5" ry="10.7" fill="#f04428" opacity="0.95"/><ellipse cx="838.5" cy="464.9" rx="11" ry="11" fill="#f0452a" opacity="0.95"/><ellipse cx="745.4" cy="254.1" rx="8.6" ry="10.2" fill="#dc3422" opacity="0.6"/><ellipse cx="680.7" cy="247.3" rx="7.8" ry="11" fill="#c8501e" opacity="0.7"/><ellipse cx="871.9" cy="668.6" rx="3.5" ry="2.8" fill="#7ad040" opacity="0.8"/><ellipse cx="867.9" cy="688.2" rx="3.1" ry="3.1" fill="#6ac83c" opacity="0.8"/><ellipse cx="893.4" cy="715.7" rx="6.3" ry="7.8" fill="#f06428" opacity="0.8"/><path d="M709.1 617.6L834.6 552.9" stroke="#b83418" stroke-width="3.2" opacity=".95"/></g></g><rect x="674" y="702" width="208" height="90" fill="#000"/><rect x="921" y="67" width="708" height="735" fill="#bfbfbf" stroke="#7f7f7f" stroke-width="2"/><rect x="1643" y="67" width="708" height="736" fill="#bfbfbf" stroke="#7f7f7f" stroke-width="2"/><rect x="1641" y="817" width="710" height="586" fill="#fff" stroke="#7f7f7f" stroke-width="2"/><mask id="mr"><ellipse cx="1284.9" cy="438.8" rx="236.5" ry="249.2" fill="#fff" filter="url(#b6)"/></mask><rect x="1020" y="160" width="530" height="560" fill="url(#pat)" mask="url(#mr)"/><use href="#m1" transform="translate(1012.9 443.7)" opacity=".78"/><use href="#m1" transform="translate(1164.1 241.6)" opacity=".78"/><use href="#m1p" transform="translate(1428.2 409.4)" opacity=".92"/><use href="#mg" transform="translate(1524.4 715.6) rotate(0) scale(1.22)" opacity="0.8"/><use href="#am" x="1025.5" y="619.2"/><use href="#am" x="1460" y="184.8"/><use href="#am" x="1460.5" y="525"/><g fill="#3d68f5"><use href="#d" transform="translate(1259.7 218.6) scale(8.5)"/><use href="#d" transform="translate(1283 227.3) scale(8.5)"/><use href="#d" transform="translate(1264.3 238.7) scale(8.5)"/><use href="#d" transform="translate(1266.1 246) scale(8.5)"/><use href="#d" transform="translate(1300 214.9) scale(8.5)"/><use href="#d" transform="translate(1184.7 244.2) scale(8.5)"/><use href="#d" transform="translate(1210.3 248.8) scale(8.5)"/><use href="#d" transform="translate(1231.4 245.1) scale(8.5)"/><use href="#d" transform="translate(1190.2 258.8) scale(8.5)"/><use href="#d" transform="translate(1231.7 261.2) scale(8.5)"/><use href="#d" transform="translate(1151.8 267.6) scale(8.5)"/><use href="#d" transform="translate(1174.6 273.5) scale(8.5)"/><use href="#d" transform="translate(1182.9 284.4) scale(8.5)"/><use href="#d" transform="translate(1128.3 278) scale(8.5)"/><use href="#d" transform="translate(1279.9 280.8) scale(8.5)"/><use href="#d" transform="translate(1300 284.4) scale(8.5)"/><use href="#d" transform="translate(1160.5 295.4) scale(8.5)"/><use href="#d" transform="translate(1127.4 299.5) scale(8.5)"/><use href="#d" transform="translate(1225.9 302.7) scale(8.5)"/><use href="#d" transform="translate(1267.1 298.2) scale(8.5)"/><use href="#d" transform="translate(1248.8 309.2) scale(8.5)"/><use href="#d" transform="translate(1155.8 317.4) scale(8.5)"/><use href="#d" transform="translate(1126.5 318.8) scale(8.5)"/><use href="#d" transform="translate(1181 325.3) scale(8.5)"/><use href="#d" transform="translate(1197.2 329.3) scale(8.5)"/><use href="#d" transform="translate(1103.8 329.3) scale(8.5)"/><use href="#d" transform="translate(1145.4 337.5) scale(8.5)"/><use href="#d" transform="translate(1158.2 335.7) scale(8.5)"/><use href="#d" transform="translate(1120.7 342.5) scale(8.5)"/><use href="#d" transform="translate(1099.1 351.2) scale(8.5)"/><use href="#d" transform="translate(1153.6 357.1) scale(8.5)"/><use href="#d" transform="translate(1088.6 371.4) scale(8.5)"/><use href="#d" transform="translate(1063.9 375.9) scale(8.5)"/><use href="#d" transform="translate(1106 380.5) scale(8.5)"/><use href="#d" transform="translate(1118.8 382.4) scale(8.5)"/><use href="#d" transform="translate(1143.5 377.8) scale(8.5)"/><use href="#d" transform="translate(1157.6 391) scale(8.5)"/><use href="#d" transform="translate(1100 400.7) scale(8.5)"/><use href="#d" transform="translate(1049.6 414.4) scale(8.5)"/><use href="#d" transform="translate(1103.8 419.9) scale(8.5)"/><use href="#d" transform="translate(1135.7 430.8) scale(8.5)"/><use href="#d" transform="translate(1356.7 163.7) scale(8.2)"/><use href="#d" transform="translate(1313.7 196.6) scale(8.2)"/><use href="#d" transform="translate(1337.5 199.3) scale(8.2)"/><use href="#d" transform="translate(1306.4 239.6) scale(8.2)"/><use href="#d" transform="translate(1368.6 242.4) scale(8.2)"/><use href="#d" transform="translate(1322.9 247.8) scale(8.2)"/><use href="#d" transform="translate(1330.2 247.8) scale(8.2)"/><use href="#d" transform="translate(1318.3 260.3) scale(8.2)"/><use href="#d" transform="translate(1340.3 260.3) scale(8.2)"/><use href="#d" transform="translate(1425.4 255.2) scale(8.2)"/><use href="#d" transform="translate(1361.3 266.7) scale(8.2)"/><use href="#d" transform="translate(1382.7 263) scale(8.2)"/><use href="#d" transform="translate(1404.3 262.1) scale(8.2)"/><use href="#d" transform="translate(1443.7 270.7) scale(8.2)"/><use href="#d" transform="translate(1417.1 276.2) scale(8.2)"/><use href="#d" transform="translate(1367.7 280.8) scale(8.2)"/><use href="#d" transform="translate(1367.3 289.9) scale(8.2)"/><use href="#d" transform="translate(1329.6 286.3) scale(8.2)"/><use href="#d" transform="translate(1425.4 293.6) scale(8.2)"/><use href="#d" transform="translate(1479.3 290.8) scale(8.2)"/><use href="#d" transform="translate(1382.7 301.3) scale(8.2)"/><use href="#d" transform="translate(1405.2 299.5) scale(8.2)"/><use href="#d" transform="translate(1444.6 307.9) scale(8.2)"/><use href="#d" transform="translate(1434 331.1) scale(8.2)"/><use href="#d" transform="translate(1447.3 350.3) scale(8.2)"/><use href="#d" transform="translate(1465.3 364.6) scale(8.2)"/><use href="#d" transform="translate(1477.5 378.1) scale(8.2)"/><use href="#d" transform="translate(1461 389.7) scale(8.2)"/><use href="#d" transform="translate(1499.1 412.2) scale(8.2)"/><use href="#d" transform="translate(1455.6 419.5) scale(8.2)"/><use href="#d" transform="translate(1476.1 436.3) scale(8.2)"/><use href="#d" transform="translate(1479 252.4) scale(8.2)"/><use href="#d" transform="translate(1077.6 443.7) scale(9.8)"/><use href="#d" transform="translate(1098.7 442.7) scale(9.8)"/><use href="#d" transform="translate(1155.4 448.2) scale(9.8)"/><use href="#d" transform="translate(1097.8 459.2) scale(9.8)"/><use href="#d" transform="translate(1148.1 472) scale(9.8)"/><use href="#d" transform="translate(1074.9 482.5) scale(9.8)"/><use href="#d" transform="translate(1090.5 482.5) scale(9.8)"/><use href="#d" transform="translate(1148.1 495.8) scale(9.8)"/><use href="#d" transform="translate(1095.9 498.6) scale(9.8)"/><use href="#d" transform="translate(1088.6 506.8) scale(9.8)"/><use href="#d" transform="translate(1172.8 508.6) scale(9.8)"/><use href="#d" transform="translate(1116.1 517.8) scale(9.8)"/><use href="#d" transform="translate(1088.1 522.4) scale(9.8)"/><use href="#d" transform="translate(1088.1 545.8) scale(9.8)"/><use href="#d" transform="translate(1167.3 549.8) scale(9.8)"/><use href="#d" transform="translate(1106.9 560.8) scale(9.8)"/><use href="#d" transform="translate(1116.1 556.2) scale(9.8)"/><use href="#d" transform="translate(1214 580) scale(9.8)"/><use href="#d" transform="translate(1172.8 584.6) scale(9.8)"/><use href="#d" transform="translate(1181 591) scale(9.8)"/><use href="#d" transform="translate(1139.9 595.6) scale(9.8)"/><use href="#d" transform="translate(1107.8 600.1) scale(9.8)"/><use href="#d" transform="translate(1225.9 600.1) scale(9.8)"/><use href="#d" transform="translate(1247.8 600.7) scale(9.8)"/><use href="#d" transform="translate(1268.5 607.5) scale(9.8)"/><use href="#d" transform="translate(1192 610.6) scale(9.8)"/><use href="#d" transform="translate(1214 610.2) scale(9.8)"/><use href="#d" transform="translate(1211.2 619.3) scale(9.8)"/><use href="#d" transform="translate(1235 617.5) scale(9.8)"/><use href="#d" transform="translate(1171 624.8) scale(9.8)"/><use href="#d" transform="translate(1179.2 631.2) scale(9.8)"/><use href="#d" transform="translate(1275.3 631.2) scale(9.8)"/><use href="#d" transform="translate(1138 635.8) scale(9.8)"/><use href="#d" transform="translate(1224.1 640.4) scale(9.8)"/><use href="#d" transform="translate(1243.6 641.3) scale(9.8)"/><use href="#d" transform="translate(1267.1 646.8) scale(9.8)"/><use href="#d" transform="translate(1279.9 648.3) scale(9.8)"/><use href="#d" transform="translate(1190.2 650.5) scale(9.8)"/><use href="#d" transform="translate(1211.8 650.5) scale(9.8)"/><use href="#d" transform="translate(1232.3 656.9) scale(9.8)"/><use href="#d" transform="translate(1273.5 669.7) scale(9.8)"/><use href="#d" transform="translate(1239.6 681.2) scale(9.8)"/><use href="#d" transform="translate(1278 688) scale(9.8)"/><use href="#d" transform="translate(1488.5 453.7) scale(9.1)"/><use href="#d" transform="translate(1466.5 460.1) scale(9.1)"/><use href="#d" transform="translate(1456.5 483) scale(9.1)"/><use href="#d" transform="translate(1469.3 482.5) scale(9.1)"/><use href="#d" transform="translate(1493.6 494.9) scale(9.1)"/><use href="#d" transform="translate(1454.1 505) scale(9.1)"/><use href="#d" transform="translate(1433 517.8) scale(9.1)"/><use href="#d" transform="translate(1486.7 537) scale(9.1)"/><use href="#d" transform="translate(1492.2 546.1) scale(9.1)"/><use href="#d" transform="translate(1434.9 541.6) scale(9.1)"/><use href="#d" transform="translate(1435.4 558) scale(9.1)"/><use href="#d" transform="translate(1457.8 555.7) scale(9.1)"/><use href="#d" transform="translate(1444 571.8) scale(9.1)"/><use href="#d" transform="translate(1468.4 576.3) scale(9.1)"/><use href="#d" transform="translate(1392.1 575.4) scale(9.1)"/><use href="#d" transform="translate(1415.3 577.3) scale(9.1)"/><use href="#d" transform="translate(1408.9 581.8) scale(9.1)"/><use href="#d" transform="translate(1434.5 586.4) scale(9.1)"/><use href="#d" transform="translate(1428.1 588.2) scale(9.1)"/><use href="#d" transform="translate(1338.1 596.5) scale(9.1)"/><use href="#d" transform="translate(1378.7 592.3) scale(9.1)"/><use href="#d" transform="translate(1394.2 597.4) scale(9.1)"/><use href="#d" transform="translate(1361.3 604.7) scale(9.1)"/><use href="#d" transform="translate(1418.6 606.5) scale(9.1)"/><use href="#d" transform="translate(1395.2 608.4) scale(9.1)"/><use href="#d" transform="translate(1384.2 616.6) scale(9.1)"/><use href="#d" transform="translate(1360.4 617.5) scale(9.1)"/><use href="#d" transform="translate(1309.2 623) scale(9.1)"/><use href="#d" transform="translate(1313.7 637.6) scale(9.1)"/><use href="#d" transform="translate(1381.4 646.8) scale(9.1)"/><use href="#d" transform="translate(1347.6 655.9) scale(9.1)"/></g><use href="#m1" transform="translate(1315.3 677.4)" opacity=".85"/><ellipse cx="1290.4" cy="439.6" rx="121.2" ry="131.2" fill="#fff" filter="url(#b65)"/><use href="#opc" transform="translate(1317 338.6) rotate(11)"/><use href="#opc" transform="translate(1247.5 396) rotate(27)"/><use href="#opc" transform="translate(1348.6 399) rotate(10.2) scale(-1 1)"/><use href="#opc" transform="translate(1217.8 456.7) rotate(10.7) scale(-1 1)"/><use href="#opc" transform="translate(1366 472.4) rotate(0.5)"/><use href="#opc" transform="translate(1292 513) rotate(10.4) scale(-1 1)"/><ellipse cx="2008.4" cy="466.6" rx="277" ry="259" fill="#fff" filter="url(#b85)"/><use href="#m1" transform="translate(1842.4 335.9) scale(1.17 1)" opacity=".88"/><use href="#am" x="1725" y="165"/><use href="#am" x="2215.2" y="165"/><use href="#am" x="1970.6" y="372.6"/><use href="#am" x="1749.3" y="589.2"/><use href="#am" x="2235" y="542.6"/><g fill="#3d68f5"><use href="#d" transform="translate(1831 216) scale(8.6)"/><use href="#d" transform="translate(1907.2 213.6) scale(8.6)"/><use href="#d" transform="translate(1977.4 224.4) scale(8.6)"/><use href="#d" transform="translate(1748.3 266.8) scale(8.6)"/><use href="#d" transform="translate(1808.1 267.5) scale(8.6)"/><use href="#d" transform="translate(1829.8 257.6) scale(8.6)"/><use href="#d" transform="translate(1700 310.8) scale(8.6)"/><use href="#d" transform="translate(1770.6 314.4) scale(8.6)"/><use href="#d" transform="translate(1927.8 315.6) scale(8.6)"/><use href="#d" transform="translate(1757.3 353.1) scale(8.6)"/><use href="#d" transform="translate(1956.8 347.8) scale(8.6)"/><use href="#d" transform="translate(1823.8 409.4) scale(8.6)"/><use href="#d" transform="translate(1775.9 419.1) scale(8.6)"/><use href="#d" transform="translate(2040.6 105.9) scale(8.6)"/><use href="#d" transform="translate(2024.9 162.8) scale(8.6)"/><use href="#d" transform="translate(2114.4 162.8) scale(8.6)"/><use href="#d" transform="translate(2081.7 185) scale(8.6)"/><use href="#d" transform="translate(2130.1 196.2) scale(8.6)"/><use href="#d" transform="translate(2053.9 231.7) scale(8.6)"/><use href="#d" transform="translate(2181.6 249.8) scale(8.6)"/><use href="#d" transform="translate(2010.9 265.6) scale(8.6)"/><use href="#d" transform="translate(2064.8 271.8) scale(8.6)"/><use href="#d" transform="translate(2103.3 278.4) scale(8.6)"/><use href="#d" transform="translate(1998.8 283) scale(8.6)"/><use href="#d" transform="translate(2111.2 302.6) scale(8.6)"/><use href="#d" transform="translate(2153.8 308.6) scale(8.6)"/><use href="#d" transform="translate(2205.8 322.9) scale(8.6)"/><use href="#d" transform="translate(2167.1 329.6) scale(8.6)"/><use href="#d" transform="translate(2290 330.8) scale(8.6)"/><use href="#d" transform="translate(2192.7 368.3) scale(8.6)"/><use href="#d" transform="translate(2274 424) scale(8.6)"/><use href="#d" transform="translate(1717.4 453.5) scale(10.3)"/><use href="#d" transform="translate(1753.2 461.4) scale(10.3)"/><use href="#d" transform="translate(1870.9 468) scale(10.3)"/><use href="#d" transform="translate(1812.9 491.7) scale(10.3)"/><use href="#d" transform="translate(1669 501.6) scale(10.3)"/><use href="#d" transform="translate(1764.1 525) scale(10.3)"/><use href="#d" transform="translate(1837.8 526.2) scale(10.3)"/><use href="#d" transform="translate(1789.5 536.9) scale(10.3)"/><use href="#d" transform="translate(1831 569.1) scale(10.3)"/><use href="#d" transform="translate(1782.9 579.2) scale(10.3)"/><use href="#d" transform="translate(1923.2 555) scale(8.6)"/><use href="#d" transform="translate(1871.7 602.4) scale(8.6)"/><use href="#d" transform="translate(1910.6 597.1) scale(8.6)"/><use href="#d" transform="translate(1965.3 626.6) scale(8.6)"/><use href="#d" transform="translate(1867.6 629.5) scale(8.6)"/><use href="#d" transform="translate(1866.1 640.4) scale(8.6)"/><use href="#d" transform="translate(1780.5 635.6) scale(8.6)"/><use href="#d" transform="translate(1893.9 671.8) scale(8.6)"/><use href="#d" transform="translate(1932.1 680.3) scale(8.6)"/><use href="#d" transform="translate(1828.6 685.9) scale(8.6)"/><use href="#d" transform="translate(1988.2 750.9) scale(8.6)"/><use href="#d" transform="translate(2189.4 446.9) scale(8.6)"/><use href="#d" transform="translate(2257.5 469.9) scale(8.6)"/><use href="#d" transform="translate(2166.9 483.2) scale(8.6)"/><use href="#d" transform="translate(2163.7 522.6) scale(8.6)"/><use href="#d" transform="translate(2189.4 562.5) scale(8.6)"/><use href="#d" transform="translate(2224.9 590.1) scale(8.6)"/><use href="#d" transform="translate(2165.2 594.4) scale(8.6)"/><use href="#d" transform="translate(2032.4 619.8) scale(8.6)"/><use href="#d" transform="translate(2091.2 628.3) scale(8.6)"/><use href="#d" transform="translate(2009.7 659.3) scale(8.6)"/><use href="#d" transform="translate(2077.9 667.2) scale(8.6)"/><use href="#d" transform="translate(2195.9 693.6) scale(8.6)"/><use href="#d" transform="translate(2082.9 731.8) scale(8.6)"/></g><use href="#opc" transform="translate(2105.2 344.2) rotate(4)"/><use href="#opc" transform="translate(1744 436) rotate(1)"/><use href="#opc" transform="translate(2151.1 477.2) rotate(-7.4) scale(-1 1)"/><use href="#opc" transform="translate(2012 551) rotate(10.3) scale(-1 1)"/><use href="#opc" transform="translate(1992.5 682) rotate(-12.8) scale(-1 1)"/><mask id="ml"><ellipse cx="1750.5" cy="876" rx="61.5" ry="42.5" fill="#fff" filter="url(#b5)"/></mask><rect x="1670" y="816" width="165" height="120" fill="url(#pat)" mask="url(#ml)"/><use href="#opc" transform="translate(1762.3 983.7) rotate(0)"/><use href="#d" transform="translate(1758.2 1062.8) scale(16.1)" fill="#3d68f5"/><use href="#mg" transform="translate(1766 1154.9) rotate(0) scale(1)" opacity="1"/><use href="#am" x="1725.2" y="1243"/></svg><div class="t hd" style="top:75.7px;">Ndst1 expression by spared OLG</div><div class="t hd" style="top:139.7px;">around the lesion</div><div class="t " style="top:509px;left:231.7px;color:#fff;font-size:45.5px;">Lesion</div><div class="t " style="top:718.9px;left:715.9px;color:#e8341f;font-size:53.5px;">Olig2</div><div class="t pn" style="top:75.3px;left:960.3px;">WT</div><div class="t pn" style="top:76.1px;left:1664.7px;">Mutant</div><div class="t lg" style="top:850px;left:1852.9px;">Ndst1/Heparan sulfate</div><div class="t lg" style="top:963.3px;left:1861.8px;">OPC</div><div class="t lg" style="top:1038.7px;left:1868.4px;">Shh</div><div class="t lg" style="top:1132.9px;left:1869px;">Microglia</div><div class="t lg" style="top:1228.3px;left:1861.5px;">Activated</div><div class="t lg" style="top:1275.5px;left:1867.3px;">microglia</div><div class="t bl" style="top:837.6px;word-spacing:5.40px;">Le Ndst1 et les heparans sulfates sont exprimés par des oligodendrocytes</div><div class="t bu" style="top:837.6px;">•</div><div class="t bl" style="top:899.6px;word-spacing:0.83px;">présents à la marge de la lésion délimitant la lésion de la substance blanche</div><div class="t bl" style="top:961.6px;word-spacing:-1.2px;">intacte.</div><div class="t bl" style="top:1033.9px;word-spacing:4.37px;">Les heparans sulfates limitent la démyélinisation et régule la mobilisation</div><div class="t bu" style="top:1033.9px;">•</div><div class="t bl" style="top:1095.4px;word-spacing:-1.2px;">des OPC et la réponse des microglies.</div><div class="t bl" style="top:1167.7px;word-spacing:-1.26px;">L'enrichissement en heparans sulfates autour de la lésion contrôle la fixation</div><div class="t bu" style="top:1167.7px;">•</div><div class="t bl" style="top:1229.7px;word-spacing:-1.2px;">du morphogène Shh.</div><div class="t bl" style="top:1303.7px;word-spacing:9.76px;">Chez l'homme, le NDST1 est régulé à la hausse dans les lésions de la</div><div class="t bu" style="top:1303.7px;">•</div><div class="t bl" style="top:1364.2px;word-spacing:4.47px;">sclérose en plaques et le nombre de cellules NDST1+ dans les lésions est</div><div class="t bl" style="top:1425.4px;word-spacing:-1.2px;">corrélé au potentiel de réparation.</div></body></html>
